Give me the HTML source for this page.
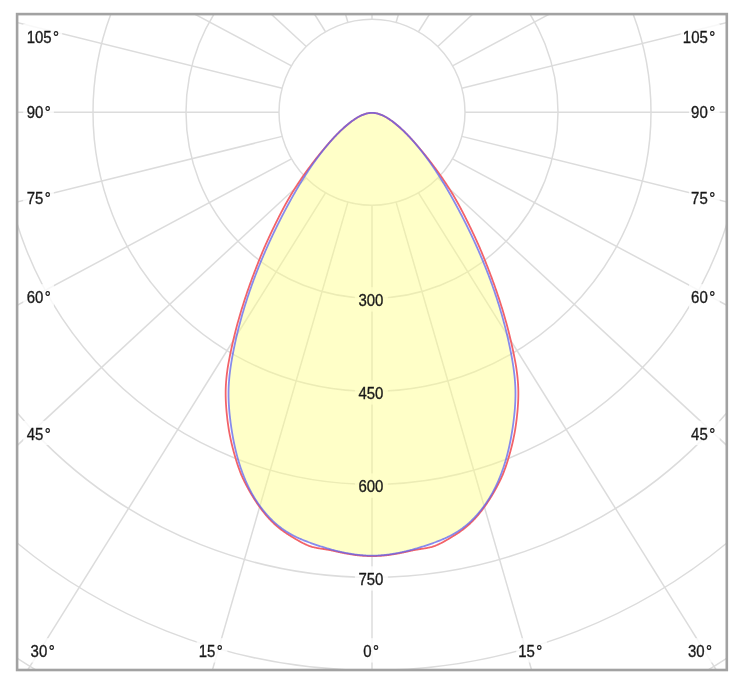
<!DOCTYPE html>
<html><head><meta charset="utf-8"><style>
html,body{margin:0;padding:0;background:#fff;}
body{width:756px;height:695px;overflow:hidden;}
svg{display:block;}
text{font-family:"Liberation Sans",sans-serif;font-size:15.0px;fill:#1a1a1a;stroke:#1a1a1a;stroke-width:0.3px;}
</style></head><body>
<svg width="756" height="695" viewBox="0 0 756 695">
<defs><filter id="bl" x="0" y="0" width="756" height="695" filterUnits="userSpaceOnUse"><feGaussianBlur stdDeviation="0.45"/></filter><clipPath id="c"><rect x="17.1" y="14.1" width="709.7" height="655.9"/></clipPath></defs>
<rect x="0" y="0" width="756" height="695" fill="#fff"/>
<g filter="url(#bl)">
<g clip-path="url(#c)">
<g fill="none" stroke="#dcdcdc" stroke-width="1.5"><circle cx="372.0" cy="112.3" r="93.00"/><circle cx="372.0" cy="112.3" r="186.00"/><circle cx="372.0" cy="112.3" r="279.00"/><circle cx="372.0" cy="112.3" r="372.00"/><circle cx="372.0" cy="112.3" r="465.00"/><circle cx="372.0" cy="112.3" r="558.00"/><circle cx="372.0" cy="112.3" r="651.00"/><line x1="372.00" y1="205.30" x2="372.00" y2="1592.80"/><line x1="396.07" y1="202.13" x2="784.30" y2="1542.35"/><line x1="418.50" y1="192.84" x2="1168.50" y2="1394.45"/><line x1="437.76" y1="178.06" x2="1498.42" y2="1159.17"/><line x1="452.54" y1="158.80" x2="1751.58" y2="852.55"/><line x1="461.83" y1="136.37" x2="1910.72" y2="495.48"/><line x1="465.00" y1="112.30" x2="1965.00" y2="112.30"/><line x1="461.83" y1="88.23" x2="1910.72" y2="-270.88"/><line x1="452.54" y1="65.80" x2="1751.58" y2="-627.95"/><line x1="437.76" y1="46.54" x2="1498.42" y2="-934.57"/><line x1="418.50" y1="31.76" x2="1168.50" y2="-1169.85"/><line x1="396.07" y1="22.47" x2="784.30" y2="-1317.75"/><line x1="372.00" y1="19.30" x2="372.00" y2="-1368.20"/><line x1="347.93" y1="22.47" x2="-40.30" y2="-1317.75"/><line x1="325.50" y1="31.76" x2="-424.50" y2="-1169.85"/><line x1="306.24" y1="46.54" x2="-754.42" y2="-934.57"/><line x1="291.46" y1="65.80" x2="-1007.58" y2="-627.95"/><line x1="282.17" y1="88.23" x2="-1166.72" y2="-270.88"/><line x1="279.00" y1="112.30" x2="-1221.00" y2="112.30"/><line x1="282.17" y1="136.37" x2="-1166.72" y2="495.48"/><line x1="291.46" y1="158.80" x2="-1007.58" y2="852.55"/><line x1="306.24" y1="178.06" x2="-754.42" y2="1159.17"/><line x1="325.50" y1="192.84" x2="-424.50" y2="1394.45"/><line x1="347.93" y1="202.13" x2="-40.30" y2="1542.35"/></g>
<g fill="#fff" fill-opacity="0.8"><rect x="23.2" y="23.9" width="39.0" height="24.3"/><rect x="680.7" y="23.9" width="39.0" height="24.3"/><rect x="23.2" y="99.0" width="30.7" height="24.3"/><rect x="689.0" y="99.0" width="30.7" height="24.3"/><rect x="23.2" y="185.4" width="30.7" height="24.3"/><rect x="689.0" y="185.4" width="30.7" height="24.3"/><rect x="23.2" y="284.2" width="30.7" height="24.3"/><rect x="689.0" y="284.2" width="30.7" height="24.3"/><rect x="23.2" y="420.8" width="30.7" height="24.3"/><rect x="689.0" y="420.8" width="30.7" height="24.3"/><rect x="28.5" y="638.2" width="30.7" height="24.3"/><rect x="196.7" y="638.2" width="30.7" height="24.3"/><rect x="361.1" y="638.2" width="22.3" height="24.3"/><rect x="516.2" y="638.2" width="30.7" height="24.3"/><rect x="685.9" y="638.2" width="30.7" height="24.3"/><rect x="354.9" y="287.2" width="33.0" height="24.3"/><rect x="354.9" y="380.3" width="33.0" height="24.3"/><rect x="354.9" y="473.5" width="33.0" height="24.3"/><rect x="354.9" y="566.3" width="33.0" height="24.3"/></g>
<path d="M372.00,112.91 L371.22,112.92 L370.50,112.95 L369.79,113.01 L369.07,113.09 L368.36,113.20 L367.65,113.33 L366.94,113.48 L366.23,113.65 L365.53,113.85 L364.82,114.06 L364.12,114.30 L363.43,114.55 L362.73,114.82 L362.04,115.11 L361.35,115.42 L360.66,115.74 L359.97,116.08 L359.29,116.44 L358.62,116.80 L357.94,117.18 L357.27,117.58 L356.60,117.98 L355.94,118.40 L355.28,118.82 L354.62,119.26 L353.97,119.70 L353.32,120.15 L352.67,120.61 L352.03,121.08 L351.40,121.55 L350.77,122.03 L350.14,122.51 L349.52,123.00 L348.90,123.49 L348.29,123.98 L347.68,124.48 L347.08,124.98 L346.48,125.48 L345.89,125.99 L345.30,126.49 L344.72,127.01 L344.13,127.52 L343.56,128.04 L342.98,128.56 L342.42,129.08 L341.85,129.61 L341.29,130.14 L340.73,130.67 L340.18,131.20 L339.63,131.74 L339.08,132.28 L338.54,132.82 L338.00,133.36 L337.46,133.91 L336.92,134.46 L336.39,135.01 L335.86,135.56 L335.34,136.12 L334.82,136.67 L334.30,137.23 L333.78,137.79 L333.26,138.36 L332.75,138.92 L332.24,139.49 L331.74,140.06 L331.23,140.63 L330.73,141.20 L330.23,141.77 L329.73,142.34 L329.23,142.92 L328.73,143.50 L328.24,144.08 L327.75,144.66 L327.26,145.24 L326.77,145.82 L326.28,146.41 L325.80,147.00 L325.32,147.58 L324.84,148.17 L324.36,148.76 L323.88,149.35 L323.40,149.95 L322.93,150.54 L322.46,151.14 L321.99,151.74 L321.52,152.34 L321.05,152.94 L320.59,153.54 L320.13,154.14 L319.66,154.74 L319.20,155.35 L318.75,155.96 L318.29,156.56 L317.84,157.17 L317.38,157.78 L316.93,158.39 L316.48,159.01 L316.03,159.62 L315.58,160.24 L315.14,160.85 L314.70,161.47 L314.25,162.09 L313.81,162.71 L313.37,163.33 L312.94,163.95 L312.50,164.57 L312.07,165.20 L311.63,165.82 L311.20,166.45 L310.77,167.08 L310.34,167.71 L309.91,168.34 L309.49,168.97 L309.06,169.60 L308.64,170.23 L308.22,170.86 L307.80,171.50 L307.38,172.14 L306.96,172.77 L306.55,173.41 L306.13,174.05 L305.72,174.69 L305.31,175.33 L304.89,175.97 L304.49,176.61 L304.08,177.26 L303.67,177.90 L303.26,178.55 L302.86,179.19 L302.46,179.84 L302.05,180.49 L301.65,181.13 L301.25,181.78 L300.86,182.43 L300.46,183.09 L300.06,183.74 L299.67,184.39 L299.27,185.04 L298.88,185.70 L298.49,186.35 L298.10,187.01 L297.71,187.67 L297.32,188.32 L296.93,188.98 L296.55,189.64 L296.16,190.30 L295.78,190.96 L295.40,191.62 L295.01,192.28 L294.63,192.94 L294.25,193.61 L293.87,194.27 L293.50,194.93 L293.12,195.60 L292.74,196.26 L292.37,196.93 L291.99,197.60 L291.62,198.26 L291.25,198.93 L290.88,199.60 L290.51,200.27 L290.14,200.94 L289.77,201.61 L289.40,202.28 L289.03,202.95 L288.67,203.62 L288.30,204.29 L287.94,204.96 L287.58,205.64 L287.21,206.31 L286.85,206.98 L286.49,207.66 L286.13,208.33 L285.77,209.01 L285.41,209.68 L285.05,210.36 L284.69,211.03 L284.34,211.71 L283.98,212.39 L283.63,213.06 L283.27,213.74 L282.92,214.42 L282.57,215.10 L282.21,215.78 L281.86,216.46 L281.51,217.14 L281.16,217.82 L280.81,218.50 L280.47,219.18 L280.12,219.86 L279.77,220.54 L279.43,221.23 L279.08,221.91 L278.74,222.59 L278.40,223.28 L278.05,223.96 L277.71,224.65 L277.37,225.33 L277.03,226.02 L276.69,226.70 L276.36,227.39 L276.02,228.07 L275.68,228.76 L275.35,229.45 L275.01,230.14 L274.68,230.82 L274.35,231.51 L274.01,232.20 L273.68,232.89 L273.35,233.58 L273.02,234.27 L272.70,234.96 L272.37,235.65 L272.04,236.35 L271.72,237.04 L271.39,237.73 L271.07,238.42 L270.74,239.12 L270.42,239.81 L270.10,240.50 L269.78,241.20 L269.46,241.89 L269.14,242.59 L268.82,243.28 L268.51,243.98 L268.19,244.68 L267.88,245.37 L267.56,246.07 L267.25,246.77 L266.94,247.47 L266.63,248.16 L266.32,248.86 L266.01,249.56 L265.70,250.26 L265.39,250.96 L265.09,251.66 L264.78,252.36 L264.48,253.06 L264.17,253.77 L263.87,254.47 L263.57,255.17 L263.27,255.87 L262.97,256.58 L262.67,257.28 L262.37,257.98 L262.07,258.69 L261.78,259.39 L261.48,260.10 L261.19,260.80 L260.90,261.51 L260.61,262.22 L260.32,262.92 L260.03,263.63 L259.74,264.34 L259.45,265.05 L259.16,265.75 L258.88,266.46 L258.59,267.17 L258.31,267.88 L258.02,268.59 L257.74,269.30 L257.46,270.01 L257.18,270.72 L256.90,271.44 L256.63,272.15 L256.35,272.86 L256.07,273.57 L255.80,274.29 L255.53,275.00 L255.25,275.71 L254.98,276.43 L254.71,277.14 L254.44,277.86 L254.17,278.57 L253.91,279.29 L253.64,280.00 L253.38,280.72 L253.11,281.44 L252.85,282.15 L252.59,282.87 L252.33,283.59 L252.07,284.31 L251.81,285.03 L251.55,285.75 L251.30,286.47 L251.04,287.19 L250.79,287.91 L250.53,288.63 L250.28,289.35 L250.03,290.07 L249.78,290.79 L249.53,291.51 L249.28,292.24 L249.04,292.96 L248.79,293.68 L248.55,294.41 L248.31,295.13 L248.06,295.85 L247.82,296.58 L247.58,297.30 L247.34,298.03 L247.11,298.76 L246.87,299.48 L246.64,300.21 L246.40,300.94 L246.17,301.66 L245.94,302.39 L245.71,303.12 L245.48,303.85 L245.25,304.58 L245.02,305.31 L244.80,306.04 L244.57,306.77 L244.35,307.50 L244.13,308.23 L243.91,308.96 L243.69,309.69 L243.47,310.42 L243.25,311.15 L243.03,311.89 L242.82,312.62 L242.60,313.35 L242.39,314.09 L242.18,314.82 L241.97,315.56 L241.76,316.29 L241.55,317.03 L241.35,317.76 L241.14,318.50 L240.94,319.23 L240.73,319.97 L240.53,320.71 L240.33,321.44 L240.13,322.18 L239.93,322.92 L239.74,323.66 L239.54,324.40 L239.35,325.14 L239.15,325.88 L238.96,326.62 L238.77,327.36 L238.58,328.10 L238.39,328.84 L238.21,329.58 L238.02,330.32 L237.84,331.06 L237.65,331.80 L237.47,332.55 L237.29,333.29 L237.11,334.03 L236.93,334.78 L236.76,335.52 L236.58,336.27 L236.41,337.01 L236.23,337.76 L236.06,338.50 L235.89,339.25 L235.72,339.99 L235.56,340.74 L235.39,341.49 L235.22,342.23 L235.06,342.98 L234.90,343.73 L234.74,344.48 L234.58,345.23 L234.42,345.98 L234.26,346.73 L234.11,347.47 L233.95,348.23 L233.80,348.98 L233.65,349.73 L233.50,350.48 L233.35,351.23 L233.20,351.98 L233.05,352.73 L232.91,353.49 L232.77,354.24 L232.62,354.99 L232.48,355.74 L232.34,356.50 L232.21,357.25 L232.07,358.01 L231.94,358.76 L231.81,359.52 L231.68,360.27 L231.55,361.03 L231.42,361.78 L231.30,362.54 L231.18,363.29 L231.06,364.05 L230.94,364.81 L230.83,365.56 L230.71,366.32 L230.60,367.08 L230.49,367.83 L230.39,368.59 L230.29,369.35 L230.18,370.11 L230.09,370.87 L229.99,371.62 L229.90,372.38 L229.81,373.14 L229.72,373.90 L229.63,374.66 L229.55,375.42 L229.47,376.18 L229.39,376.93 L229.32,377.69 L229.25,378.45 L229.18,379.21 L229.12,379.97 L229.06,380.73 L229.00,381.49 L228.94,382.25 L228.89,383.01 L228.84,383.77 L228.80,384.53 L228.75,385.29 L228.72,386.05 L228.68,386.81 L228.65,387.57 L228.62,388.33 L228.60,389.09 L228.58,389.85 L228.56,390.61 L228.55,391.37 L228.54,392.13 L228.53,392.89 L228.53,393.64 L228.53,394.40 L228.54,395.16 L228.54,395.92 L228.55,396.68 L228.57,397.44 L228.59,398.20 L228.61,398.96 L228.63,399.72 L228.66,400.48 L228.69,401.24 L228.72,402.00 L228.76,402.76 L228.79,403.52 L228.84,404.28 L228.88,405.04 L228.93,405.80 L228.98,406.56 L229.03,407.32 L229.09,408.08 L229.14,408.84 L229.21,409.60 L229.27,410.36 L229.33,411.12 L229.40,411.88 L229.47,412.64 L229.55,413.39 L229.62,414.15 L229.70,414.91 L229.78,415.67 L229.86,416.43 L229.95,417.19 L230.04,417.95 L230.13,418.71 L230.22,419.47 L230.31,420.23 L230.41,420.99 L230.50,421.75 L230.60,422.51 L230.70,423.27 L230.81,424.03 L230.91,424.80 L231.02,425.56 L231.13,426.32 L231.24,427.08 L231.35,427.84 L231.46,428.60 L231.58,429.36 L231.70,430.12 L231.82,430.88 L231.94,431.64 L232.06,432.40 L232.19,433.15 L232.32,433.91 L232.45,434.67 L232.58,435.43 L232.71,436.19 L232.85,436.95 L232.99,437.71 L233.13,438.46 L233.27,439.22 L233.42,439.98 L233.57,440.73 L233.72,441.49 L233.87,442.24 L234.02,443.00 L234.18,443.75 L234.34,444.51 L234.50,445.26 L234.66,446.01 L234.83,446.76 L235.00,447.51 L235.17,448.26 L235.34,449.01 L235.52,449.76 L235.70,450.51 L235.88,451.26 L236.06,452.01 L236.25,452.75 L236.44,453.50 L236.63,454.24 L236.82,454.99 L237.02,455.73 L237.22,456.47 L237.42,457.21 L237.63,457.95 L237.83,458.69 L238.04,459.43 L238.26,460.17 L238.47,460.90 L238.69,461.64 L238.91,462.37 L239.14,463.11 L239.36,463.84 L239.59,464.57 L239.83,465.30 L240.06,466.03 L240.30,466.75 L240.54,467.48 L240.79,468.20 L241.04,468.93 L241.29,469.65 L241.54,470.37 L241.80,471.09 L242.06,471.81 L242.32,472.52 L242.59,473.24 L242.86,473.95 L243.13,474.66 L243.41,475.37 L243.69,476.08 L243.97,476.79 L244.26,477.50 L244.55,478.20 L244.84,478.91 L245.13,479.61 L245.43,480.31 L245.74,481.00 L246.04,481.70 L246.35,482.40 L246.66,483.09 L246.98,483.78 L247.30,484.47 L247.62,485.16 L247.95,485.84 L248.28,486.53 L248.61,487.21 L248.95,487.89 L249.29,488.57 L249.64,489.24 L249.99,489.92 L250.34,490.59 L250.69,491.26 L251.05,491.93 L251.42,492.59 L251.78,493.26 L252.16,493.92 L252.53,494.58 L252.91,495.24 L253.29,495.89 L253.68,496.55 L254.07,497.20 L254.46,497.85 L254.86,498.50 L255.26,499.14 L255.67,499.78 L256.08,500.42 L256.49,501.06 L256.91,501.70 L257.33,502.33 L257.75,502.96 L258.18,503.59 L258.62,504.21 L259.06,504.84 L259.50,505.46 L259.94,506.07 L260.40,506.69 L260.85,507.30 L261.31,507.91 L261.77,508.52 L262.24,509.13 L262.71,509.73 L263.19,510.33 L263.67,510.92 L264.15,511.52 L264.64,512.11 L265.13,512.69 L265.63,513.28 L266.13,513.86 L266.63,514.43 L267.14,515.01 L267.66,515.58 L268.17,516.14 L268.69,516.70 L269.22,517.26 L269.75,517.82 L270.28,518.37 L270.82,518.91 L271.36,519.46 L271.90,519.99 L272.45,520.53 L273.00,521.06 L273.56,521.58 L274.12,522.10 L274.69,522.62 L275.25,523.13 L275.83,523.63 L276.40,524.13 L276.98,524.63 L277.57,525.12 L278.15,525.61 L278.74,526.09 L279.34,526.56 L279.94,527.03 L280.54,527.50 L281.15,527.96 L281.76,528.41 L282.37,528.86 L282.99,529.30 L283.61,529.74 L284.23,530.17 L284.86,530.59 L285.49,531.01 L286.13,531.43 L286.77,531.83 L287.41,532.23 L288.06,532.63 L288.71,533.02 L289.36,533.40 L290.02,533.78 L290.68,534.15 L291.34,534.51 L292.01,534.88 L292.68,535.23 L293.35,535.58 L294.02,535.93 L294.70,536.27 L295.38,536.61 L296.06,536.94 L296.75,537.26 L297.44,537.59 L298.13,537.90 L298.82,538.22 L299.51,538.53 L300.21,538.84 L300.91,539.14 L301.61,539.44 L302.32,539.73 L303.02,540.02 L303.73,540.31 L304.44,540.60 L305.15,540.88 L305.86,541.16 L306.58,541.43 L307.29,541.71 L308.01,541.98 L308.73,542.25 L309.45,542.51 L310.17,542.77 L310.89,543.03 L311.62,543.29 L312.34,543.55 L313.07,543.80 L313.79,544.06 L314.52,544.31 L315.25,544.56 L315.98,544.81 L316.71,545.05 L317.44,545.30 L318.17,545.54 L318.90,545.78 L319.64,546.02 L320.37,546.26 L321.11,546.50 L321.84,546.73 L322.58,546.96 L323.31,547.19 L324.05,547.42 L324.79,547.64 L325.53,547.87 L326.26,548.09 L327.00,548.31 L327.74,548.53 L328.49,548.74 L329.23,548.95 L329.97,549.16 L330.71,549.37 L331.45,549.57 L332.20,549.77 L332.94,549.97 L333.69,550.17 L334.43,550.37 L335.18,550.56 L335.92,550.75 L336.67,550.93 L337.42,551.11 L338.16,551.29 L338.91,551.47 L339.66,551.65 L340.41,551.82 L341.16,551.98 L341.91,552.15 L342.66,552.31 L343.41,552.47 L344.16,552.63 L344.91,552.78 L345.66,552.93 L346.42,553.07 L347.17,553.21 L347.92,553.35 L348.67,553.49 L349.43,553.62 L350.18,553.75 L350.93,553.87 L351.69,553.99 L352.44,554.11 L353.20,554.22 L353.95,554.33 L354.71,554.43 L355.46,554.53 L356.22,554.63 L356.97,554.72 L357.73,554.81 L358.49,554.90 L359.24,554.98 L360.00,555.06 L360.76,555.13 L361.51,555.20 L362.27,555.26 L363.03,555.32 L363.78,555.38 L364.54,555.43 L365.30,555.47 L366.05,555.52 L366.81,555.55 L367.57,555.59 L368.33,555.61 L369.08,555.64 L369.84,555.66 L370.60,555.67 L371.36,555.68 L372.00,555.68 L372.64,555.68 L373.40,555.67 L374.16,555.66 L374.92,555.64 L375.67,555.61 L376.43,555.59 L377.19,555.55 L377.95,555.52 L378.70,555.47 L379.46,555.43 L380.22,555.38 L380.97,555.32 L381.73,555.26 L382.49,555.20 L383.24,555.13 L384.00,555.06 L384.76,554.98 L385.51,554.90 L386.27,554.81 L387.03,554.72 L387.78,554.63 L388.54,554.53 L389.29,554.43 L390.05,554.33 L390.80,554.22 L391.56,554.11 L392.31,553.99 L393.07,553.87 L393.82,553.75 L394.57,553.62 L395.33,553.49 L396.08,553.35 L396.83,553.21 L397.58,553.07 L398.34,552.93 L399.09,552.78 L399.84,552.63 L400.59,552.47 L401.34,552.31 L402.09,552.15 L402.84,551.98 L403.59,551.82 L404.34,551.65 L405.09,551.47 L405.84,551.29 L406.58,551.11 L407.33,550.93 L408.08,550.75 L408.82,550.56 L409.57,550.37 L410.31,550.17 L411.06,549.97 L411.80,549.77 L412.55,549.57 L413.29,549.37 L414.03,549.16 L414.77,548.95 L415.51,548.74 L416.26,548.53 L417.00,548.31 L417.74,548.09 L418.47,547.87 L419.21,547.64 L419.95,547.42 L420.69,547.19 L421.42,546.96 L422.16,546.73 L422.89,546.50 L423.63,546.26 L424.36,546.02 L425.10,545.78 L425.83,545.54 L426.56,545.30 L427.29,545.05 L428.02,544.81 L428.75,544.56 L429.48,544.31 L430.21,544.06 L430.93,543.80 L431.66,543.55 L432.38,543.29 L433.11,543.03 L433.83,542.77 L434.55,542.51 L435.27,542.25 L435.99,541.98 L436.71,541.71 L437.42,541.43 L438.14,541.16 L438.85,540.88 L439.56,540.60 L440.27,540.31 L440.98,540.02 L441.68,539.73 L442.39,539.44 L443.09,539.14 L443.79,538.84 L444.49,538.53 L445.18,538.22 L445.87,537.90 L446.56,537.59 L447.25,537.26 L447.94,536.94 L448.62,536.61 L449.30,536.27 L449.98,535.93 L450.65,535.58 L451.32,535.23 L451.99,534.88 L452.66,534.51 L453.32,534.15 L453.98,533.78 L454.64,533.40 L455.29,533.02 L455.94,532.63 L456.59,532.23 L457.23,531.83 L457.87,531.43 L458.51,531.01 L459.14,530.59 L459.77,530.17 L460.39,529.74 L461.01,529.30 L461.63,528.86 L462.24,528.41 L462.85,527.96 L463.46,527.50 L464.06,527.03 L464.66,526.56 L465.26,526.09 L465.85,525.61 L466.43,525.12 L467.02,524.63 L467.60,524.13 L468.17,523.63 L468.75,523.13 L469.31,522.62 L469.88,522.10 L470.44,521.58 L471.00,521.06 L471.55,520.53 L472.10,519.99 L472.64,519.46 L473.18,518.91 L473.72,518.37 L474.25,517.82 L474.78,517.26 L475.31,516.70 L475.83,516.14 L476.34,515.58 L476.86,515.01 L477.37,514.43 L477.87,513.86 L478.37,513.28 L478.87,512.69 L479.36,512.11 L479.85,511.52 L480.33,510.92 L480.81,510.33 L481.29,509.73 L481.76,509.13 L482.23,508.52 L482.69,507.91 L483.15,507.30 L483.60,506.69 L484.06,506.07 L484.50,505.46 L484.94,504.84 L485.38,504.21 L485.82,503.59 L486.25,502.96 L486.67,502.33 L487.09,501.70 L487.51,501.06 L487.92,500.42 L488.33,499.78 L488.74,499.14 L489.14,498.50 L489.54,497.85 L489.93,497.20 L490.32,496.55 L490.71,495.89 L491.09,495.24 L491.47,494.58 L491.84,493.92 L492.22,493.26 L492.58,492.59 L492.95,491.93 L493.31,491.26 L493.66,490.59 L494.01,489.92 L494.36,489.24 L494.71,488.57 L495.05,487.89 L495.39,487.21 L495.72,486.53 L496.05,485.84 L496.38,485.16 L496.70,484.47 L497.02,483.78 L497.34,483.09 L497.65,482.40 L497.96,481.70 L498.26,481.00 L498.57,480.31 L498.87,479.61 L499.16,478.91 L499.45,478.20 L499.74,477.50 L500.03,476.79 L500.31,476.08 L500.59,475.37 L500.87,474.66 L501.14,473.95 L501.41,473.24 L501.68,472.52 L501.94,471.81 L502.20,471.09 L502.46,470.37 L502.71,469.65 L502.96,468.93 L503.21,468.20 L503.46,467.48 L503.70,466.75 L503.94,466.03 L504.17,465.30 L504.41,464.57 L504.64,463.84 L504.86,463.11 L505.09,462.37 L505.31,461.64 L505.53,460.90 L505.74,460.17 L505.96,459.43 L506.17,458.69 L506.37,457.95 L506.58,457.21 L506.78,456.47 L506.98,455.73 L507.18,454.99 L507.37,454.24 L507.56,453.50 L507.75,452.75 L507.94,452.01 L508.12,451.26 L508.30,450.51 L508.48,449.76 L508.66,449.01 L508.83,448.26 L509.00,447.51 L509.17,446.76 L509.34,446.01 L509.50,445.26 L509.66,444.51 L509.82,443.75 L509.98,443.00 L510.13,442.24 L510.28,441.49 L510.43,440.73 L510.58,439.98 L510.73,439.22 L510.87,438.46 L511.01,437.71 L511.15,436.95 L511.29,436.19 L511.42,435.43 L511.55,434.67 L511.68,433.91 L511.81,433.15 L511.94,432.40 L512.06,431.64 L512.18,430.88 L512.30,430.12 L512.42,429.36 L512.54,428.60 L512.65,427.84 L512.76,427.08 L512.87,426.32 L512.98,425.56 L513.09,424.80 L513.19,424.03 L513.30,423.27 L513.40,422.51 L513.50,421.75 L513.59,420.99 L513.69,420.23 L513.78,419.47 L513.87,418.71 L513.96,417.95 L514.05,417.19 L514.14,416.43 L514.22,415.67 L514.30,414.91 L514.38,414.15 L514.45,413.39 L514.53,412.64 L514.60,411.88 L514.67,411.12 L514.73,410.36 L514.79,409.60 L514.86,408.84 L514.91,408.08 L514.97,407.32 L515.02,406.56 L515.07,405.80 L515.12,405.04 L515.16,404.28 L515.21,403.52 L515.24,402.76 L515.28,402.00 L515.31,401.24 L515.34,400.48 L515.37,399.72 L515.39,398.96 L515.41,398.20 L515.43,397.44 L515.45,396.68 L515.46,395.92 L515.46,395.16 L515.47,394.40 L515.47,393.64 L515.47,392.89 L515.46,392.13 L515.45,391.37 L515.44,390.61 L515.42,389.85 L515.40,389.09 L515.38,388.33 L515.35,387.57 L515.32,386.81 L515.28,386.05 L515.25,385.29 L515.20,384.53 L515.16,383.77 L515.11,383.01 L515.06,382.25 L515.00,381.49 L514.94,380.73 L514.88,379.97 L514.82,379.21 L514.75,378.45 L514.68,377.69 L514.61,376.93 L514.53,376.18 L514.45,375.42 L514.37,374.66 L514.28,373.90 L514.19,373.14 L514.10,372.38 L514.01,371.62 L513.91,370.87 L513.82,370.11 L513.71,369.35 L513.61,368.59 L513.51,367.83 L513.40,367.08 L513.29,366.32 L513.17,365.56 L513.06,364.81 L512.94,364.05 L512.82,363.29 L512.70,362.54 L512.58,361.78 L512.45,361.03 L512.32,360.27 L512.19,359.52 L512.06,358.76 L511.93,358.01 L511.79,357.25 L511.66,356.50 L511.52,355.74 L511.38,354.99 L511.23,354.24 L511.09,353.49 L510.95,352.73 L510.80,351.98 L510.65,351.23 L510.50,350.48 L510.35,349.73 L510.20,348.98 L510.05,348.23 L509.89,347.47 L509.74,346.73 L509.58,345.98 L509.42,345.23 L509.26,344.48 L509.10,343.73 L508.94,342.98 L508.78,342.23 L508.61,341.49 L508.44,340.74 L508.28,339.99 L508.11,339.25 L507.94,338.50 L507.77,337.76 L507.59,337.01 L507.42,336.27 L507.24,335.52 L507.07,334.78 L506.89,334.03 L506.71,333.29 L506.53,332.55 L506.35,331.80 L506.16,331.06 L505.98,330.32 L505.79,329.58 L505.61,328.84 L505.42,328.10 L505.23,327.36 L505.04,326.62 L504.85,325.88 L504.65,325.14 L504.46,324.40 L504.26,323.66 L504.07,322.92 L503.87,322.18 L503.67,321.44 L503.47,320.71 L503.27,319.97 L503.06,319.23 L502.86,318.50 L502.65,317.76 L502.45,317.03 L502.24,316.29 L502.03,315.56 L501.82,314.82 L501.61,314.09 L501.40,313.35 L501.18,312.62 L500.97,311.89 L500.75,311.15 L500.53,310.42 L500.31,309.69 L500.09,308.96 L499.87,308.23 L499.65,307.50 L499.43,306.77 L499.20,306.04 L498.98,305.31 L498.75,304.58 L498.52,303.85 L498.29,303.12 L498.06,302.39 L497.83,301.66 L497.60,300.94 L497.36,300.21 L497.13,299.48 L496.89,298.76 L496.66,298.03 L496.42,297.30 L496.18,296.58 L495.94,295.85 L495.69,295.13 L495.45,294.41 L495.21,293.68 L494.96,292.96 L494.72,292.24 L494.47,291.51 L494.22,290.79 L493.97,290.07 L493.72,289.35 L493.47,288.63 L493.21,287.91 L492.96,287.19 L492.70,286.47 L492.45,285.75 L492.19,285.03 L491.93,284.31 L491.67,283.59 L491.41,282.87 L491.15,282.15 L490.89,281.44 L490.62,280.72 L490.36,280.00 L490.09,279.29 L489.83,278.57 L489.56,277.86 L489.29,277.14 L489.02,276.43 L488.75,275.71 L488.47,275.00 L488.20,274.29 L487.93,273.57 L487.65,272.86 L487.37,272.15 L487.10,271.44 L486.82,270.72 L486.54,270.01 L486.26,269.30 L485.98,268.59 L485.69,267.88 L485.41,267.17 L485.12,266.46 L484.84,265.75 L484.55,265.05 L484.26,264.34 L483.97,263.63 L483.68,262.92 L483.39,262.22 L483.10,261.51 L482.81,260.80 L482.52,260.10 L482.22,259.39 L481.93,258.69 L481.63,257.98 L481.33,257.28 L481.03,256.58 L480.73,255.87 L480.43,255.17 L480.13,254.47 L479.83,253.77 L479.52,253.06 L479.22,252.36 L478.91,251.66 L478.61,250.96 L478.30,250.26 L477.99,249.56 L477.68,248.86 L477.37,248.16 L477.06,247.47 L476.75,246.77 L476.44,246.07 L476.12,245.37 L475.81,244.68 L475.49,243.98 L475.18,243.28 L474.86,242.59 L474.54,241.89 L474.22,241.20 L473.90,240.50 L473.58,239.81 L473.26,239.12 L472.93,238.42 L472.61,237.73 L472.28,237.04 L471.96,236.35 L471.63,235.65 L471.30,234.96 L470.98,234.27 L470.65,233.58 L470.32,232.89 L469.99,232.20 L469.65,231.51 L469.32,230.82 L468.99,230.14 L468.65,229.45 L468.32,228.76 L467.98,228.07 L467.64,227.39 L467.31,226.70 L466.97,226.02 L466.63,225.33 L466.29,224.65 L465.95,223.96 L465.60,223.28 L465.26,222.59 L464.92,221.91 L464.57,221.23 L464.23,220.54 L463.88,219.86 L463.53,219.18 L463.19,218.50 L462.84,217.82 L462.49,217.14 L462.14,216.46 L461.79,215.78 L461.43,215.10 L461.08,214.42 L460.73,213.74 L460.37,213.06 L460.02,212.39 L459.66,211.71 L459.31,211.03 L458.95,210.36 L458.59,209.68 L458.23,209.01 L457.87,208.33 L457.51,207.66 L457.15,206.98 L456.79,206.31 L456.42,205.64 L456.06,204.96 L455.70,204.29 L455.33,203.62 L454.97,202.95 L454.60,202.28 L454.23,201.61 L453.86,200.94 L453.49,200.27 L453.12,199.60 L452.75,198.93 L452.38,198.26 L452.01,197.60 L451.63,196.93 L451.26,196.26 L450.88,195.60 L450.50,194.93 L450.13,194.27 L449.75,193.61 L449.37,192.94 L448.99,192.28 L448.60,191.62 L448.22,190.96 L447.84,190.30 L447.45,189.64 L447.07,188.98 L446.68,188.32 L446.29,187.67 L445.90,187.01 L445.51,186.35 L445.12,185.70 L444.73,185.04 L444.33,184.39 L443.94,183.74 L443.54,183.09 L443.14,182.43 L442.75,181.78 L442.35,181.13 L441.95,180.49 L441.54,179.84 L441.14,179.19 L440.74,178.55 L440.33,177.90 L439.92,177.26 L439.51,176.61 L439.11,175.97 L438.69,175.33 L438.28,174.69 L437.87,174.05 L437.45,173.41 L437.04,172.77 L436.62,172.14 L436.20,171.50 L435.78,170.86 L435.36,170.23 L434.94,169.60 L434.51,168.97 L434.09,168.34 L433.66,167.71 L433.23,167.08 L432.80,166.45 L432.37,165.82 L431.93,165.20 L431.50,164.57 L431.06,163.95 L430.63,163.33 L430.19,162.71 L429.75,162.09 L429.30,161.47 L428.86,160.85 L428.42,160.24 L427.97,159.62 L427.52,159.01 L427.07,158.39 L426.62,157.78 L426.16,157.17 L425.71,156.56 L425.25,155.96 L424.80,155.35 L424.34,154.74 L423.87,154.14 L423.41,153.54 L422.95,152.94 L422.48,152.34 L422.01,151.74 L421.54,151.14 L421.07,150.54 L420.60,149.95 L420.12,149.35 L419.64,148.76 L419.16,148.17 L418.68,147.58 L418.20,147.00 L417.72,146.41 L417.23,145.82 L416.74,145.24 L416.25,144.66 L415.76,144.08 L415.27,143.50 L414.77,142.92 L414.27,142.34 L413.77,141.77 L413.27,141.20 L412.77,140.63 L412.26,140.06 L411.76,139.49 L411.25,138.92 L410.74,138.36 L410.22,137.79 L409.70,137.23 L409.18,136.67 L408.66,136.12 L408.14,135.56 L407.61,135.01 L407.08,134.46 L406.54,133.91 L406.00,133.36 L405.46,132.82 L404.92,132.28 L404.37,131.74 L403.82,131.20 L403.27,130.67 L402.71,130.14 L402.15,129.61 L401.58,129.08 L401.02,128.56 L400.44,128.04 L399.87,127.52 L399.28,127.01 L398.70,126.49 L398.11,125.99 L397.52,125.48 L396.92,124.98 L396.32,124.48 L395.71,123.98 L395.10,123.49 L394.48,123.00 L393.86,122.51 L393.23,122.03 L392.60,121.55 L391.97,121.08 L391.33,120.61 L390.68,120.15 L390.03,119.70 L389.38,119.26 L388.72,118.82 L388.06,118.40 L387.40,117.98 L386.73,117.58 L386.06,117.18 L385.38,116.80 L384.71,116.44 L384.03,116.08 L383.34,115.74 L382.65,115.42 L381.96,115.11 L381.27,114.82 L380.57,114.55 L379.88,114.30 L379.18,114.06 L378.47,113.85 L377.77,113.65 L377.06,113.48 L376.35,113.33 L375.64,113.20 L374.93,113.09 L374.21,113.01 L373.50,112.95 L372.78,112.92 L372.00,112.91Z" fill="rgb(255,255,132)" fill-opacity="0.45" stroke="none"/>
<path d="M372.00,112.91 L371.22,112.92 L370.50,112.95 L369.79,113.01 L369.07,113.09 L368.36,113.20 L367.65,113.33 L366.94,113.48 L366.23,113.65 L365.53,113.85 L364.82,114.06 L364.12,114.30 L363.43,114.55 L362.73,114.82 L362.04,115.11 L361.35,115.42 L360.66,115.74 L359.97,116.08 L359.29,116.44 L358.62,116.80 L357.94,117.18 L357.27,117.58 L356.60,117.98 L355.94,118.40 L355.28,118.82 L354.62,119.26 L353.97,119.70 L353.32,120.15 L352.67,120.61 L352.03,121.08 L351.40,121.55 L350.77,122.03 L350.14,122.51 L349.52,123.00 L348.90,123.49 L348.29,123.98 L347.68,124.48 L347.08,124.98 L346.48,125.48 L345.89,125.98 L345.30,126.49 L344.71,127.00 L344.13,127.52 L343.55,128.03 L342.98,128.55 L342.41,129.07 L341.84,129.60 L341.28,130.13 L340.72,130.66 L340.16,131.19 L339.61,131.72 L339.06,132.26 L338.51,132.80 L337.97,133.34 L337.43,133.88 L336.89,134.42 L336.35,134.97 L335.82,135.52 L335.29,136.07 L334.77,136.63 L334.24,137.18 L333.72,137.74 L333.20,138.30 L332.68,138.86 L332.17,139.42 L331.66,139.99 L331.15,140.55 L330.64,141.12 L330.13,141.69 L329.63,142.26 L329.13,142.83 L328.63,143.41 L328.13,143.98 L327.63,144.56 L327.13,145.14 L326.64,145.72 L326.15,146.30 L325.65,146.88 L325.16,147.46 L324.67,148.04 L324.19,148.62 L323.70,149.21 L323.21,149.79 L322.72,150.38 L322.24,150.97 L321.75,151.55 L321.27,152.14 L320.79,152.73 L320.31,153.32 L319.83,153.91 L319.35,154.50 L318.87,155.09 L318.39,155.69 L317.91,156.28 L317.44,156.88 L316.97,157.47 L316.49,158.07 L316.02,158.67 L315.55,159.27 L315.09,159.87 L314.62,160.48 L314.15,161.08 L313.69,161.68 L313.23,162.29 L312.76,162.90 L312.30,163.50 L311.84,164.11 L311.38,164.72 L310.92,165.33 L310.46,165.94 L310.01,166.56 L309.55,167.17 L309.10,167.78 L308.64,168.40 L308.19,169.01 L307.74,169.63 L307.29,170.25 L306.84,170.87 L306.39,171.48 L305.94,172.11 L305.50,172.73 L305.05,173.35 L304.61,173.97 L304.17,174.60 L303.73,175.22 L303.29,175.85 L302.85,176.48 L302.41,177.11 L301.98,177.74 L301.54,178.37 L301.11,179.00 L300.68,179.64 L300.25,180.27 L299.82,180.91 L299.39,181.54 L298.97,182.18 L298.54,182.82 L298.12,183.46 L297.70,184.10 L297.28,184.74 L296.86,185.38 L296.44,186.02 L296.02,186.67 L295.61,187.31 L295.19,187.96 L294.78,188.61 L294.37,189.26 L293.96,189.90 L293.55,190.56 L293.15,191.21 L292.74,191.86 L292.34,192.51 L291.94,193.17 L291.55,193.83 L291.15,194.48 L290.76,195.14 L290.37,195.80 L289.98,196.47 L289.59,197.13 L289.21,197.79 L288.82,198.46 L288.44,199.12 L288.06,199.79 L287.68,200.46 L287.30,201.13 L286.93,201.80 L286.55,202.47 L286.18,203.14 L285.80,203.81 L285.43,204.48 L285.06,205.15 L284.70,205.83 L284.33,206.50 L283.96,207.18 L283.60,207.85 L283.24,208.53 L282.88,209.21 L282.52,209.89 L282.16,210.56 L281.81,211.25 L281.45,211.93 L281.10,212.61 L280.75,213.29 L280.40,213.97 L280.05,214.66 L279.70,215.34 L279.35,216.03 L279.00,216.71 L278.66,217.40 L278.31,218.08 L277.97,218.77 L277.62,219.46 L277.28,220.14 L276.94,220.83 L276.60,221.52 L276.26,222.20 L275.92,222.89 L275.58,223.58 L275.24,224.27 L274.90,224.96 L274.56,225.65 L274.22,226.34 L273.89,227.03 L273.55,227.72 L273.22,228.41 L272.88,229.10 L272.55,229.80 L272.22,230.49 L271.89,231.18 L271.56,231.87 L271.23,232.57 L270.90,233.26 L270.57,233.96 L270.25,234.65 L269.92,235.35 L269.60,236.04 L269.27,236.74 L268.95,237.43 L268.63,238.13 L268.30,238.83 L267.98,239.53 L267.67,240.22 L267.35,240.92 L267.03,241.62 L266.71,242.32 L266.40,243.02 L266.08,243.72 L265.77,244.42 L265.46,245.12 L265.15,245.83 L264.84,246.53 L264.53,247.23 L264.22,247.94 L263.92,248.64 L263.62,249.35 L263.31,250.05 L263.01,250.76 L262.71,251.46 L262.42,252.17 L262.12,252.88 L261.82,253.59 L261.53,254.30 L261.24,255.01 L260.94,255.72 L260.65,256.43 L260.36,257.14 L260.08,257.85 L259.79,258.56 L259.50,259.27 L259.22,259.98 L258.93,260.70 L258.65,261.41 L258.37,262.12 L258.08,262.84 L257.80,263.55 L257.52,264.26 L257.24,264.98 L256.96,265.69 L256.68,266.41 L256.41,267.12 L256.13,267.84 L255.85,268.55 L255.58,269.27 L255.30,269.99 L255.02,270.70 L254.75,271.42 L254.47,272.13 L254.20,272.85 L253.93,273.57 L253.65,274.28 L253.38,275.00 L253.11,275.72 L252.84,276.43 L252.57,277.15 L252.30,277.87 L252.03,278.59 L251.77,279.31 L251.50,280.03 L251.24,280.75 L250.97,281.47 L250.71,282.19 L250.45,282.91 L250.19,283.63 L249.93,284.35 L249.67,285.07 L249.41,285.80 L249.15,286.52 L248.90,287.24 L248.65,287.97 L248.39,288.69 L248.14,289.41 L247.89,290.14 L247.64,290.86 L247.39,291.59 L247.14,292.32 L246.90,293.04 L246.65,293.77 L246.41,294.49 L246.16,295.22 L245.92,295.95 L245.68,296.68 L245.44,297.40 L245.20,298.13 L244.96,298.86 L244.72,299.59 L244.48,300.32 L244.25,301.05 L244.01,301.78 L243.78,302.51 L243.54,303.24 L243.31,303.97 L243.08,304.70 L242.85,305.43 L242.62,306.17 L242.39,306.90 L242.16,307.63 L241.93,308.36 L241.71,309.10 L241.48,309.83 L241.26,310.56 L241.04,311.30 L240.82,312.03 L240.60,312.77 L240.38,313.51 L240.16,314.24 L239.95,314.98 L239.73,315.71 L239.52,316.45 L239.30,317.19 L239.09,317.93 L238.88,318.67 L238.67,319.40 L238.47,320.14 L238.26,320.88 L238.06,321.62 L237.85,322.36 L237.65,323.10 L237.45,323.84 L237.25,324.59 L237.05,325.33 L236.85,326.07 L236.65,326.81 L236.46,327.55 L236.26,328.30 L236.07,329.04 L235.88,329.79 L235.68,330.53 L235.49,331.27 L235.30,332.02 L235.12,332.76 L234.93,333.51 L234.74,334.26 L234.56,335.00 L234.38,335.75 L234.19,336.50 L234.01,337.24 L233.83,337.99 L233.66,338.74 L233.48,339.49 L233.30,340.24 L233.13,340.99 L232.95,341.74 L232.78,342.49 L232.61,343.24 L232.44,343.99 L232.27,344.74 L232.10,345.49 L231.94,346.24 L231.77,346.99 L231.60,347.74 L231.44,348.50 L231.28,349.25 L231.11,350.00 L230.95,350.76 L230.79,351.51 L230.63,352.26 L230.47,353.02 L230.32,353.77 L230.16,354.53 L230.01,355.29 L229.85,356.04 L229.70,356.80 L229.55,357.56 L229.40,358.32 L229.25,359.07 L229.11,359.83 L228.96,360.59 L228.82,361.35 L228.68,362.11 L228.55,362.87 L228.41,363.64 L228.28,364.40 L228.15,365.16 L228.02,365.92 L227.90,366.69 L227.78,367.45 L227.66,368.21 L227.55,368.98 L227.43,369.75 L227.33,370.51 L227.22,371.28 L227.12,372.04 L227.02,372.81 L226.92,373.58 L226.83,374.35 L226.74,375.12 L226.66,375.89 L226.58,376.66 L226.50,377.42 L226.42,378.19 L226.35,378.97 L226.28,379.74 L226.21,380.51 L226.15,381.28 L226.09,382.05 L226.03,382.82 L225.98,383.59 L225.93,384.36 L225.89,385.14 L225.85,385.91 L225.81,386.68 L225.77,387.46 L225.75,388.23 L225.72,389.00 L225.70,389.78 L225.68,390.55 L225.67,391.32 L225.66,392.10 L225.66,392.87 L225.66,393.64 L225.66,394.41 L225.67,395.19 L225.68,395.96 L225.69,396.73 L225.71,397.50 L225.73,398.27 L225.75,399.04 L225.78,399.82 L225.81,400.59 L225.84,401.36 L225.88,402.13 L225.92,402.90 L225.96,403.67 L226.01,404.44 L226.06,405.21 L226.11,405.98 L226.16,406.75 L226.22,407.52 L226.28,408.29 L226.34,409.06 L226.40,409.83 L226.47,410.59 L226.54,411.36 L226.61,412.13 L226.68,412.90 L226.76,413.67 L226.83,414.44 L226.91,415.21 L227.00,415.97 L227.08,416.74 L227.17,417.51 L227.25,418.28 L227.35,419.04 L227.44,419.81 L227.53,420.58 L227.63,421.35 L227.73,422.11 L227.83,422.88 L227.93,423.65 L228.04,424.41 L228.15,425.18 L228.26,425.95 L228.37,426.71 L228.49,427.48 L228.61,428.24 L228.73,429.01 L228.86,429.78 L228.99,430.54 L229.12,431.31 L229.25,432.07 L229.39,432.84 L229.53,433.60 L229.68,434.36 L229.82,435.13 L229.97,435.89 L230.13,436.65 L230.28,437.41 L230.44,438.18 L230.60,438.94 L230.77,439.70 L230.93,440.46 L231.10,441.22 L231.27,441.98 L231.45,442.73 L231.62,443.49 L231.80,444.25 L231.98,445.01 L232.17,445.76 L232.35,446.52 L232.54,447.27 L232.73,448.03 L232.92,448.78 L233.12,449.53 L233.32,450.28 L233.52,451.04 L233.72,451.79 L233.93,452.54 L234.14,453.28 L234.35,454.03 L234.56,454.78 L234.77,455.53 L234.99,456.27 L235.21,457.02 L235.43,457.76 L235.65,458.50 L235.87,459.25 L236.10,459.99 L236.33,460.73 L236.56,461.47 L236.80,462.21 L237.03,462.94 L237.27,463.68 L237.51,464.42 L237.76,465.15 L238.01,465.88 L238.26,466.62 L238.51,467.35 L238.76,468.08 L239.02,468.81 L239.28,469.53 L239.55,470.26 L239.82,470.98 L240.09,471.70 L240.37,472.42 L240.66,473.14 L240.95,473.85 L241.24,474.57 L241.54,475.28 L241.85,475.99 L242.16,476.69 L242.47,477.39 L242.79,478.09 L243.12,478.79 L243.45,479.49 L243.78,480.18 L244.12,480.87 L244.46,481.56 L244.80,482.25 L245.15,482.93 L245.50,483.62 L245.85,484.30 L246.21,484.98 L246.56,485.66 L246.92,486.34 L247.28,487.01 L247.64,487.69 L248.01,488.36 L248.37,489.03 L248.74,489.70 L249.11,490.37 L249.49,491.04 L249.86,491.71 L250.24,492.37 L250.62,493.03 L251.01,493.69 L251.40,494.35 L251.79,495.01 L252.18,495.66 L252.58,496.31 L252.98,496.96 L253.38,497.61 L253.79,498.26 L254.20,498.91 L254.61,499.55 L255.02,500.19 L255.44,500.83 L255.86,501.47 L256.28,502.11 L256.70,502.75 L257.13,503.38 L257.56,504.01 L258.00,504.65 L258.44,505.27 L258.88,505.90 L259.32,506.53 L259.77,507.15 L260.22,507.77 L260.68,508.39 L261.14,509.01 L261.60,509.62 L262.07,510.24 L262.54,510.85 L263.01,511.46 L263.49,512.06 L263.97,512.67 L264.45,513.27 L264.94,513.86 L265.44,514.46 L265.94,515.05 L266.44,515.64 L266.94,516.22 L267.45,516.81 L267.97,517.38 L268.48,517.96 L269.01,518.53 L269.53,519.10 L270.07,519.66 L270.60,520.22 L271.14,520.77 L271.69,521.32 L272.24,521.87 L272.79,522.41 L273.35,522.94 L273.91,523.48 L274.47,524.00 L275.04,524.52 L275.62,525.04 L276.20,525.55 L276.78,526.06 L277.37,526.57 L277.96,527.06 L278.55,527.56 L279.15,528.04 L279.76,528.52 L280.36,529.00 L280.97,529.47 L281.59,529.94 L282.21,530.40 L282.83,530.86 L283.46,531.31 L284.09,531.75 L284.72,532.19 L285.36,532.63 L286.00,533.06 L286.64,533.48 L287.29,533.91 L287.94,534.32 L288.59,534.74 L289.24,535.15 L289.89,535.56 L290.55,535.96 L291.21,536.36 L291.87,536.77 L292.53,537.17 L293.19,537.57 L293.85,537.96 L294.52,538.36 L295.19,538.76 L295.85,539.15 L296.52,539.55 L297.20,539.94 L297.87,540.33 L298.55,540.71 L299.23,541.10 L299.91,541.48 L300.59,541.85 L301.28,542.23 L301.97,542.59 L302.66,542.96 L303.36,543.31 L304.06,543.66 L304.76,544.00 L305.47,544.33 L306.18,544.65 L306.89,544.96 L307.61,545.26 L308.34,545.55 L309.06,545.83 L309.80,546.09 L310.53,546.34 L311.27,546.58 L312.02,546.81 L312.77,547.02 L313.52,547.22 L314.28,547.40 L315.04,547.58 L315.81,547.74 L316.58,547.89 L317.35,548.03 L318.12,548.17 L318.90,548.30 L319.68,548.42 L320.45,548.54 L321.23,548.65 L322.01,548.76 L322.79,548.88 L323.57,548.99 L324.34,549.11 L325.11,549.24 L325.89,549.36 L326.66,549.49 L327.42,549.63 L328.19,549.77 L328.95,549.91 L329.72,550.06 L330.48,550.21 L331.24,550.37 L331.99,550.53 L332.75,550.69 L333.51,550.85 L334.26,551.02 L335.02,551.19 L335.77,551.36 L336.52,551.52 L337.28,551.69 L338.03,551.86 L338.78,552.02 L339.54,552.19 L340.29,552.35 L341.04,552.51 L341.80,552.67 L342.55,552.83 L343.30,552.98 L344.06,553.13 L344.81,553.28 L345.57,553.42 L346.32,553.56 L347.08,553.70 L347.83,553.84 L348.59,553.97 L349.34,554.10 L350.10,554.22 L350.86,554.34 L351.61,554.46 L352.37,554.57 L353.13,554.68 L353.89,554.79 L354.64,554.89 L355.40,554.99 L356.16,555.09 L356.92,555.18 L357.68,555.26 L358.44,555.35 L359.20,555.42 L359.96,555.50 L360.71,555.57 L361.47,555.63 L362.23,555.70 L362.99,555.75 L363.75,555.81 L364.51,555.85 L365.27,555.90 L366.03,555.94 L366.79,555.97 L367.55,556.00 L368.31,556.03 L369.07,556.05 L369.83,556.07 L370.59,556.08 L371.35,556.09 L372.00,556.09 L372.65,556.09 L373.41,556.08 L374.17,556.07 L374.93,556.05 L375.69,556.03 L376.45,556.00 L377.21,555.97 L377.97,555.94 L378.73,555.90 L379.49,555.85 L380.25,555.81 L381.01,555.75 L381.77,555.70 L382.53,555.63 L383.29,555.57 L384.04,555.50 L384.80,555.42 L385.56,555.35 L386.32,555.26 L387.08,555.18 L387.84,555.09 L388.60,554.99 L389.36,554.89 L390.11,554.79 L390.87,554.68 L391.63,554.57 L392.39,554.46 L393.14,554.34 L393.90,554.22 L394.66,554.10 L395.41,553.97 L396.17,553.84 L396.92,553.70 L397.68,553.56 L398.43,553.42 L399.19,553.28 L399.94,553.13 L400.70,552.98 L401.45,552.83 L402.20,552.67 L402.96,552.51 L403.71,552.35 L404.46,552.19 L405.22,552.02 L405.97,551.86 L406.72,551.69 L407.48,551.52 L408.23,551.36 L408.98,551.19 L409.74,551.02 L410.49,550.85 L411.25,550.69 L412.01,550.53 L412.76,550.37 L413.52,550.21 L414.28,550.06 L415.05,549.91 L415.81,549.77 L416.58,549.63 L417.34,549.49 L418.11,549.36 L418.89,549.24 L419.66,549.11 L420.43,548.99 L421.21,548.88 L421.99,548.76 L422.77,548.65 L423.55,548.54 L424.32,548.42 L425.10,548.30 L425.88,548.17 L426.65,548.03 L427.42,547.89 L428.19,547.74 L428.96,547.58 L429.72,547.40 L430.48,547.22 L431.23,547.02 L431.98,546.81 L432.73,546.58 L433.47,546.34 L434.20,546.09 L434.94,545.83 L435.66,545.55 L436.39,545.26 L437.11,544.96 L437.82,544.65 L438.53,544.33 L439.24,544.00 L439.94,543.66 L440.64,543.31 L441.34,542.96 L442.03,542.59 L442.72,542.23 L443.41,541.85 L444.09,541.48 L444.77,541.10 L445.45,540.71 L446.13,540.33 L446.80,539.94 L447.48,539.55 L448.15,539.15 L448.81,538.76 L449.48,538.36 L450.15,537.96 L450.81,537.57 L451.47,537.17 L452.13,536.77 L452.79,536.36 L453.45,535.96 L454.11,535.56 L454.76,535.15 L455.41,534.74 L456.06,534.32 L456.71,533.91 L457.36,533.48 L458.00,533.06 L458.64,532.63 L459.28,532.19 L459.91,531.75 L460.54,531.31 L461.17,530.86 L461.79,530.40 L462.41,529.94 L463.03,529.47 L463.64,529.00 L464.24,528.52 L464.85,528.04 L465.45,527.56 L466.04,527.06 L466.63,526.57 L467.22,526.06 L467.80,525.55 L468.38,525.04 L468.96,524.52 L469.53,524.00 L470.09,523.48 L470.65,522.94 L471.21,522.41 L471.76,521.87 L472.31,521.32 L472.86,520.77 L473.40,520.22 L473.93,519.66 L474.47,519.10 L474.99,518.53 L475.52,517.96 L476.03,517.38 L476.55,516.81 L477.06,516.22 L477.56,515.64 L478.06,515.05 L478.56,514.46 L479.06,513.86 L479.55,513.27 L480.03,512.67 L480.51,512.06 L480.99,511.46 L481.46,510.85 L481.93,510.24 L482.40,509.62 L482.86,509.01 L483.32,508.39 L483.78,507.77 L484.23,507.15 L484.68,506.53 L485.12,505.90 L485.56,505.27 L486.00,504.65 L486.44,504.01 L486.87,503.38 L487.30,502.75 L487.72,502.11 L488.14,501.47 L488.56,500.83 L488.98,500.19 L489.39,499.55 L489.80,498.91 L490.21,498.26 L490.62,497.61 L491.02,496.96 L491.42,496.31 L491.82,495.66 L492.21,495.01 L492.60,494.35 L492.99,493.69 L493.38,493.03 L493.76,492.37 L494.14,491.71 L494.51,491.04 L494.89,490.37 L495.26,489.70 L495.63,489.03 L495.99,488.36 L496.36,487.69 L496.72,487.01 L497.08,486.34 L497.44,485.66 L497.79,484.98 L498.15,484.30 L498.50,483.62 L498.85,482.93 L499.20,482.25 L499.54,481.56 L499.88,480.87 L500.22,480.18 L500.55,479.49 L500.88,478.79 L501.21,478.09 L501.53,477.39 L501.84,476.69 L502.15,475.99 L502.46,475.28 L502.76,474.57 L503.05,473.85 L503.34,473.14 L503.63,472.42 L503.91,471.70 L504.18,470.98 L504.45,470.26 L504.72,469.53 L504.98,468.81 L505.24,468.08 L505.49,467.35 L505.74,466.62 L505.99,465.88 L506.24,465.15 L506.49,464.42 L506.73,463.68 L506.97,462.94 L507.20,462.21 L507.44,461.47 L507.67,460.73 L507.90,459.99 L508.13,459.25 L508.35,458.50 L508.57,457.76 L508.79,457.02 L509.01,456.27 L509.23,455.53 L509.44,454.78 L509.65,454.03 L509.86,453.28 L510.07,452.54 L510.28,451.79 L510.48,451.04 L510.68,450.28 L510.88,449.53 L511.08,448.78 L511.27,448.03 L511.46,447.27 L511.65,446.52 L511.83,445.76 L512.02,445.01 L512.20,444.25 L512.38,443.49 L512.55,442.73 L512.73,441.98 L512.90,441.22 L513.07,440.46 L513.23,439.70 L513.40,438.94 L513.56,438.18 L513.72,437.41 L513.87,436.65 L514.03,435.89 L514.18,435.13 L514.32,434.36 L514.47,433.60 L514.61,432.84 L514.75,432.07 L514.88,431.31 L515.01,430.54 L515.14,429.78 L515.27,429.01 L515.39,428.24 L515.51,427.48 L515.63,426.71 L515.74,425.95 L515.85,425.18 L515.96,424.41 L516.07,423.65 L516.17,422.88 L516.27,422.11 L516.37,421.35 L516.47,420.58 L516.56,419.81 L516.65,419.04 L516.75,418.28 L516.83,417.51 L516.92,416.74 L517.00,415.97 L517.09,415.21 L517.17,414.44 L517.24,413.67 L517.32,412.90 L517.39,412.13 L517.46,411.36 L517.53,410.59 L517.60,409.83 L517.66,409.06 L517.72,408.29 L517.78,407.52 L517.84,406.75 L517.89,405.98 L517.94,405.21 L517.99,404.44 L518.04,403.67 L518.08,402.90 L518.12,402.13 L518.16,401.36 L518.19,400.59 L518.22,399.82 L518.25,399.04 L518.27,398.27 L518.29,397.50 L518.31,396.73 L518.32,395.96 L518.33,395.19 L518.34,394.41 L518.34,393.64 L518.34,392.87 L518.34,392.10 L518.33,391.32 L518.32,390.55 L518.30,389.78 L518.28,389.00 L518.25,388.23 L518.23,387.46 L518.19,386.68 L518.15,385.91 L518.11,385.14 L518.07,384.36 L518.02,383.59 L517.97,382.82 L517.91,382.05 L517.85,381.28 L517.79,380.51 L517.72,379.74 L517.65,378.97 L517.58,378.19 L517.50,377.42 L517.42,376.66 L517.34,375.89 L517.26,375.12 L517.17,374.35 L517.08,373.58 L516.98,372.81 L516.88,372.04 L516.78,371.28 L516.67,370.51 L516.57,369.75 L516.45,368.98 L516.34,368.21 L516.22,367.45 L516.10,366.69 L515.98,365.92 L515.85,365.16 L515.72,364.40 L515.59,363.64 L515.45,362.87 L515.32,362.11 L515.18,361.35 L515.04,360.59 L514.89,359.83 L514.75,359.07 L514.60,358.32 L514.45,357.56 L514.30,356.80 L514.15,356.04 L513.99,355.29 L513.84,354.53 L513.68,353.77 L513.53,353.02 L513.37,352.26 L513.21,351.51 L513.05,350.76 L512.89,350.00 L512.72,349.25 L512.56,348.50 L512.40,347.74 L512.23,346.99 L512.06,346.24 L511.90,345.49 L511.73,344.74 L511.56,343.99 L511.39,343.24 L511.22,342.49 L511.05,341.74 L510.87,340.99 L510.70,340.24 L510.52,339.49 L510.34,338.74 L510.17,337.99 L509.99,337.24 L509.81,336.50 L509.62,335.75 L509.44,335.00 L509.26,334.26 L509.07,333.51 L508.88,332.76 L508.70,332.02 L508.51,331.27 L508.32,330.53 L508.12,329.79 L507.93,329.04 L507.74,328.30 L507.54,327.55 L507.35,326.81 L507.15,326.07 L506.95,325.33 L506.75,324.59 L506.55,323.84 L506.35,323.10 L506.15,322.36 L505.94,321.62 L505.74,320.88 L505.53,320.14 L505.33,319.40 L505.12,318.67 L504.91,317.93 L504.70,317.19 L504.48,316.45 L504.27,315.71 L504.05,314.98 L503.84,314.24 L503.62,313.51 L503.40,312.77 L503.18,312.03 L502.96,311.30 L502.74,310.56 L502.52,309.83 L502.29,309.10 L502.07,308.36 L501.84,307.63 L501.61,306.90 L501.38,306.17 L501.15,305.43 L500.92,304.70 L500.69,303.97 L500.46,303.24 L500.22,302.51 L499.99,301.78 L499.75,301.05 L499.52,300.32 L499.28,299.59 L499.04,298.86 L498.80,298.13 L498.56,297.40 L498.32,296.68 L498.08,295.95 L497.84,295.22 L497.59,294.49 L497.35,293.77 L497.10,293.04 L496.86,292.32 L496.61,291.59 L496.36,290.86 L496.11,290.14 L495.86,289.41 L495.61,288.69 L495.35,287.97 L495.10,287.24 L494.85,286.52 L494.59,285.80 L494.33,285.07 L494.07,284.35 L493.81,283.63 L493.55,282.91 L493.29,282.19 L493.03,281.47 L492.76,280.75 L492.50,280.03 L492.23,279.31 L491.97,278.59 L491.70,277.87 L491.43,277.15 L491.16,276.43 L490.89,275.72 L490.62,275.00 L490.35,274.28 L490.07,273.57 L489.80,272.85 L489.53,272.13 L489.25,271.42 L488.98,270.70 L488.70,269.99 L488.42,269.27 L488.15,268.55 L487.87,267.84 L487.59,267.12 L487.32,266.41 L487.04,265.69 L486.76,264.98 L486.48,264.26 L486.20,263.55 L485.92,262.84 L485.63,262.12 L485.35,261.41 L485.07,260.70 L484.78,259.98 L484.50,259.27 L484.21,258.56 L483.92,257.85 L483.64,257.14 L483.35,256.43 L483.06,255.72 L482.76,255.01 L482.47,254.30 L482.18,253.59 L481.88,252.88 L481.58,252.17 L481.29,251.46 L480.99,250.76 L480.69,250.05 L480.38,249.35 L480.08,248.64 L479.78,247.94 L479.47,247.23 L479.16,246.53 L478.85,245.83 L478.54,245.12 L478.23,244.42 L477.92,243.72 L477.60,243.02 L477.29,242.32 L476.97,241.62 L476.65,240.92 L476.33,240.22 L476.02,239.53 L475.70,238.83 L475.37,238.13 L475.05,237.43 L474.73,236.74 L474.40,236.04 L474.08,235.35 L473.75,234.65 L473.43,233.96 L473.10,233.26 L472.77,232.57 L472.44,231.87 L472.11,231.18 L471.78,230.49 L471.45,229.80 L471.12,229.10 L470.78,228.41 L470.45,227.72 L470.11,227.03 L469.78,226.34 L469.44,225.65 L469.10,224.96 L468.76,224.27 L468.42,223.58 L468.08,222.89 L467.74,222.20 L467.40,221.52 L467.06,220.83 L466.72,220.14 L466.38,219.46 L466.03,218.77 L465.69,218.08 L465.34,217.40 L465.00,216.71 L464.65,216.03 L464.30,215.34 L463.95,214.66 L463.60,213.97 L463.25,213.29 L462.90,212.61 L462.55,211.93 L462.19,211.25 L461.84,210.56 L461.48,209.89 L461.12,209.21 L460.76,208.53 L460.40,207.85 L460.04,207.18 L459.67,206.50 L459.30,205.83 L458.94,205.15 L458.57,204.48 L458.20,203.81 L457.82,203.14 L457.45,202.47 L457.07,201.80 L456.70,201.13 L456.32,200.46 L455.94,199.79 L455.56,199.12 L455.18,198.46 L454.79,197.79 L454.41,197.13 L454.02,196.47 L453.63,195.80 L453.24,195.14 L452.85,194.48 L452.45,193.83 L452.06,193.17 L451.66,192.51 L451.26,191.86 L450.85,191.21 L450.45,190.56 L450.04,189.90 L449.63,189.26 L449.22,188.61 L448.81,187.96 L448.39,187.31 L447.98,186.67 L447.56,186.02 L447.14,185.38 L446.72,184.74 L446.30,184.10 L445.88,183.46 L445.46,182.82 L445.03,182.18 L444.61,181.54 L444.18,180.91 L443.75,180.27 L443.32,179.64 L442.89,179.00 L442.46,178.37 L442.02,177.74 L441.59,177.11 L441.15,176.48 L440.71,175.85 L440.27,175.22 L439.83,174.60 L439.39,173.97 L438.95,173.35 L438.50,172.73 L438.06,172.11 L437.61,171.48 L437.16,170.87 L436.71,170.25 L436.26,169.63 L435.81,169.01 L435.36,168.40 L434.90,167.78 L434.45,167.17 L433.99,166.56 L433.54,165.94 L433.08,165.33 L432.62,164.72 L432.16,164.11 L431.70,163.50 L431.24,162.90 L430.77,162.29 L430.31,161.68 L429.85,161.08 L429.38,160.48 L428.91,159.87 L428.45,159.27 L427.98,158.67 L427.51,158.07 L427.03,157.47 L426.56,156.88 L426.09,156.28 L425.61,155.69 L425.13,155.09 L424.65,154.50 L424.17,153.91 L423.69,153.32 L423.21,152.73 L422.73,152.14 L422.25,151.55 L421.76,150.97 L421.28,150.38 L420.79,149.79 L420.30,149.21 L419.81,148.62 L419.33,148.04 L418.84,147.46 L418.35,146.88 L417.85,146.30 L417.36,145.72 L416.87,145.14 L416.37,144.56 L415.87,143.98 L415.37,143.41 L414.87,142.83 L414.37,142.26 L413.87,141.69 L413.36,141.12 L412.85,140.55 L412.34,139.99 L411.83,139.42 L411.32,138.86 L410.80,138.30 L410.28,137.74 L409.76,137.18 L409.23,136.63 L408.71,136.07 L408.18,135.52 L407.65,134.97 L407.11,134.42 L406.57,133.88 L406.03,133.34 L405.49,132.80 L404.94,132.26 L404.39,131.72 L403.84,131.19 L403.28,130.66 L402.72,130.13 L402.16,129.60 L401.59,129.07 L401.02,128.55 L400.45,128.03 L399.87,127.52 L399.29,127.00 L398.70,126.49 L398.11,125.98 L397.52,125.48 L396.92,124.98 L396.32,124.48 L395.71,123.98 L395.10,123.49 L394.48,123.00 L393.86,122.51 L393.23,122.03 L392.60,121.55 L391.97,121.08 L391.33,120.61 L390.68,120.15 L390.03,119.70 L389.38,119.26 L388.72,118.82 L388.06,118.40 L387.40,117.98 L386.73,117.58 L386.06,117.18 L385.38,116.80 L384.71,116.44 L384.03,116.08 L383.34,115.74 L382.65,115.42 L381.96,115.11 L381.27,114.82 L380.57,114.55 L379.88,114.30 L379.18,114.06 L378.47,113.85 L377.77,113.65 L377.06,113.48 L376.35,113.33 L375.64,113.20 L374.93,113.09 L374.21,113.01 L373.50,112.95 L372.78,112.92 L372.00,112.91Z" fill="none" stroke="rgb(242,100,105)" stroke-width="1.8" stroke-linejoin="round"/>
<path d="M372.00,112.91 L371.22,112.92 L370.50,112.95 L369.79,113.01 L369.07,113.09 L368.36,113.20 L367.65,113.33 L366.94,113.48 L366.23,113.65 L365.53,113.85 L364.82,114.06 L364.12,114.30 L363.43,114.55 L362.73,114.82 L362.04,115.11 L361.35,115.42 L360.66,115.74 L359.97,116.08 L359.29,116.44 L358.62,116.80 L357.94,117.18 L357.27,117.58 L356.60,117.98 L355.94,118.40 L355.28,118.82 L354.62,119.26 L353.97,119.70 L353.32,120.15 L352.67,120.61 L352.03,121.08 L351.40,121.55 L350.77,122.03 L350.14,122.51 L349.52,123.00 L348.90,123.49 L348.29,123.98 L347.68,124.48 L347.08,124.98 L346.48,125.48 L345.89,125.99 L345.30,126.49 L344.72,127.01 L344.13,127.52 L343.56,128.04 L342.98,128.56 L342.42,129.08 L341.85,129.61 L341.29,130.14 L340.73,130.67 L340.18,131.20 L339.63,131.74 L339.08,132.28 L338.54,132.82 L338.00,133.36 L337.46,133.91 L336.92,134.46 L336.39,135.01 L335.86,135.56 L335.34,136.12 L334.82,136.67 L334.30,137.23 L333.78,137.79 L333.26,138.36 L332.75,138.92 L332.24,139.49 L331.74,140.06 L331.23,140.63 L330.73,141.20 L330.23,141.77 L329.73,142.34 L329.23,142.92 L328.73,143.50 L328.24,144.08 L327.75,144.66 L327.26,145.24 L326.77,145.82 L326.28,146.41 L325.80,147.00 L325.32,147.58 L324.84,148.17 L324.36,148.76 L323.88,149.35 L323.40,149.95 L322.93,150.54 L322.46,151.14 L321.99,151.74 L321.52,152.34 L321.05,152.94 L320.59,153.54 L320.13,154.14 L319.66,154.74 L319.20,155.35 L318.75,155.96 L318.29,156.56 L317.84,157.17 L317.38,157.78 L316.93,158.39 L316.48,159.01 L316.03,159.62 L315.58,160.24 L315.14,160.85 L314.70,161.47 L314.25,162.09 L313.81,162.71 L313.37,163.33 L312.94,163.95 L312.50,164.57 L312.07,165.20 L311.63,165.82 L311.20,166.45 L310.77,167.08 L310.34,167.71 L309.91,168.34 L309.49,168.97 L309.06,169.60 L308.64,170.23 L308.22,170.86 L307.80,171.50 L307.38,172.14 L306.96,172.77 L306.55,173.41 L306.13,174.05 L305.72,174.69 L305.31,175.33 L304.89,175.97 L304.49,176.61 L304.08,177.26 L303.67,177.90 L303.26,178.55 L302.86,179.19 L302.46,179.84 L302.05,180.49 L301.65,181.13 L301.25,181.78 L300.86,182.43 L300.46,183.09 L300.06,183.74 L299.67,184.39 L299.27,185.04 L298.88,185.70 L298.49,186.35 L298.10,187.01 L297.71,187.67 L297.32,188.32 L296.93,188.98 L296.55,189.64 L296.16,190.30 L295.78,190.96 L295.40,191.62 L295.01,192.28 L294.63,192.94 L294.25,193.61 L293.87,194.27 L293.50,194.93 L293.12,195.60 L292.74,196.26 L292.37,196.93 L291.99,197.60 L291.62,198.26 L291.25,198.93 L290.88,199.60 L290.51,200.27 L290.14,200.94 L289.77,201.61 L289.40,202.28 L289.03,202.95 L288.67,203.62 L288.30,204.29 L287.94,204.96 L287.58,205.64 L287.21,206.31 L286.85,206.98 L286.49,207.66 L286.13,208.33 L285.77,209.01 L285.41,209.68 L285.05,210.36 L284.69,211.03 L284.34,211.71 L283.98,212.39 L283.63,213.06 L283.27,213.74 L282.92,214.42 L282.57,215.10 L282.21,215.78 L281.86,216.46 L281.51,217.14 L281.16,217.82 L280.81,218.50 L280.47,219.18 L280.12,219.86 L279.77,220.54 L279.43,221.23 L279.08,221.91 L278.74,222.59 L278.40,223.28 L278.05,223.96 L277.71,224.65 L277.37,225.33 L277.03,226.02 L276.69,226.70 L276.36,227.39 L276.02,228.07 L275.68,228.76 L275.35,229.45 L275.01,230.14 L274.68,230.82 L274.35,231.51 L274.01,232.20 L273.68,232.89 L273.35,233.58 L273.02,234.27 L272.70,234.96 L272.37,235.65 L272.04,236.35 L271.72,237.04 L271.39,237.73 L271.07,238.42 L270.74,239.12 L270.42,239.81 L270.10,240.50 L269.78,241.20 L269.46,241.89 L269.14,242.59 L268.82,243.28 L268.51,243.98 L268.19,244.68 L267.88,245.37 L267.56,246.07 L267.25,246.77 L266.94,247.47 L266.63,248.16 L266.32,248.86 L266.01,249.56 L265.70,250.26 L265.39,250.96 L265.09,251.66 L264.78,252.36 L264.48,253.06 L264.17,253.77 L263.87,254.47 L263.57,255.17 L263.27,255.87 L262.97,256.58 L262.67,257.28 L262.37,257.98 L262.07,258.69 L261.78,259.39 L261.48,260.10 L261.19,260.80 L260.90,261.51 L260.61,262.22 L260.32,262.92 L260.03,263.63 L259.74,264.34 L259.45,265.05 L259.16,265.75 L258.88,266.46 L258.59,267.17 L258.31,267.88 L258.02,268.59 L257.74,269.30 L257.46,270.01 L257.18,270.72 L256.90,271.44 L256.63,272.15 L256.35,272.86 L256.07,273.57 L255.80,274.29 L255.53,275.00 L255.25,275.71 L254.98,276.43 L254.71,277.14 L254.44,277.86 L254.17,278.57 L253.91,279.29 L253.64,280.00 L253.38,280.72 L253.11,281.44 L252.85,282.15 L252.59,282.87 L252.33,283.59 L252.07,284.31 L251.81,285.03 L251.55,285.75 L251.30,286.47 L251.04,287.19 L250.79,287.91 L250.53,288.63 L250.28,289.35 L250.03,290.07 L249.78,290.79 L249.53,291.51 L249.28,292.24 L249.04,292.96 L248.79,293.68 L248.55,294.41 L248.31,295.13 L248.06,295.85 L247.82,296.58 L247.58,297.30 L247.34,298.03 L247.11,298.76 L246.87,299.48 L246.64,300.21 L246.40,300.94 L246.17,301.66 L245.94,302.39 L245.71,303.12 L245.48,303.85 L245.25,304.58 L245.02,305.31 L244.80,306.04 L244.57,306.77 L244.35,307.50 L244.13,308.23 L243.91,308.96 L243.69,309.69 L243.47,310.42 L243.25,311.15 L243.03,311.89 L242.82,312.62 L242.60,313.35 L242.39,314.09 L242.18,314.82 L241.97,315.56 L241.76,316.29 L241.55,317.03 L241.35,317.76 L241.14,318.50 L240.94,319.23 L240.73,319.97 L240.53,320.71 L240.33,321.44 L240.13,322.18 L239.93,322.92 L239.74,323.66 L239.54,324.40 L239.35,325.14 L239.15,325.88 L238.96,326.62 L238.77,327.36 L238.58,328.10 L238.39,328.84 L238.21,329.58 L238.02,330.32 L237.84,331.06 L237.65,331.80 L237.47,332.55 L237.29,333.29 L237.11,334.03 L236.93,334.78 L236.76,335.52 L236.58,336.27 L236.41,337.01 L236.23,337.76 L236.06,338.50 L235.89,339.25 L235.72,339.99 L235.56,340.74 L235.39,341.49 L235.22,342.23 L235.06,342.98 L234.90,343.73 L234.74,344.48 L234.58,345.23 L234.42,345.98 L234.26,346.73 L234.11,347.47 L233.95,348.23 L233.80,348.98 L233.65,349.73 L233.50,350.48 L233.35,351.23 L233.20,351.98 L233.05,352.73 L232.91,353.49 L232.77,354.24 L232.62,354.99 L232.48,355.74 L232.34,356.50 L232.21,357.25 L232.07,358.01 L231.94,358.76 L231.81,359.52 L231.68,360.27 L231.55,361.03 L231.42,361.78 L231.30,362.54 L231.18,363.29 L231.06,364.05 L230.94,364.81 L230.83,365.56 L230.71,366.32 L230.60,367.08 L230.49,367.83 L230.39,368.59 L230.29,369.35 L230.18,370.11 L230.09,370.87 L229.99,371.62 L229.90,372.38 L229.81,373.14 L229.72,373.90 L229.63,374.66 L229.55,375.42 L229.47,376.18 L229.39,376.93 L229.32,377.69 L229.25,378.45 L229.18,379.21 L229.12,379.97 L229.06,380.73 L229.00,381.49 L228.94,382.25 L228.89,383.01 L228.84,383.77 L228.80,384.53 L228.75,385.29 L228.72,386.05 L228.68,386.81 L228.65,387.57 L228.62,388.33 L228.60,389.09 L228.58,389.85 L228.56,390.61 L228.55,391.37 L228.54,392.13 L228.53,392.89 L228.53,393.64 L228.53,394.40 L228.54,395.16 L228.54,395.92 L228.55,396.68 L228.57,397.44 L228.59,398.20 L228.61,398.96 L228.63,399.72 L228.66,400.48 L228.69,401.24 L228.72,402.00 L228.76,402.76 L228.79,403.52 L228.84,404.28 L228.88,405.04 L228.93,405.80 L228.98,406.56 L229.03,407.32 L229.09,408.08 L229.14,408.84 L229.21,409.60 L229.27,410.36 L229.33,411.12 L229.40,411.88 L229.47,412.64 L229.55,413.39 L229.62,414.15 L229.70,414.91 L229.78,415.67 L229.86,416.43 L229.95,417.19 L230.04,417.95 L230.13,418.71 L230.22,419.47 L230.31,420.23 L230.41,420.99 L230.50,421.75 L230.60,422.51 L230.70,423.27 L230.81,424.03 L230.91,424.80 L231.02,425.56 L231.13,426.32 L231.24,427.08 L231.35,427.84 L231.46,428.60 L231.58,429.36 L231.70,430.12 L231.82,430.88 L231.94,431.64 L232.06,432.40 L232.19,433.15 L232.32,433.91 L232.45,434.67 L232.58,435.43 L232.71,436.19 L232.85,436.95 L232.99,437.71 L233.13,438.46 L233.27,439.22 L233.42,439.98 L233.57,440.73 L233.72,441.49 L233.87,442.24 L234.02,443.00 L234.18,443.75 L234.34,444.51 L234.50,445.26 L234.66,446.01 L234.83,446.76 L235.00,447.51 L235.17,448.26 L235.34,449.01 L235.52,449.76 L235.70,450.51 L235.88,451.26 L236.06,452.01 L236.25,452.75 L236.44,453.50 L236.63,454.24 L236.82,454.99 L237.02,455.73 L237.22,456.47 L237.42,457.21 L237.63,457.95 L237.83,458.69 L238.04,459.43 L238.26,460.17 L238.47,460.90 L238.69,461.64 L238.91,462.37 L239.14,463.11 L239.36,463.84 L239.59,464.57 L239.83,465.30 L240.06,466.03 L240.30,466.75 L240.54,467.48 L240.79,468.20 L241.04,468.93 L241.29,469.65 L241.54,470.37 L241.80,471.09 L242.06,471.81 L242.32,472.52 L242.59,473.24 L242.86,473.95 L243.13,474.66 L243.41,475.37 L243.69,476.08 L243.97,476.79 L244.26,477.50 L244.55,478.20 L244.84,478.91 L245.13,479.61 L245.43,480.31 L245.74,481.00 L246.04,481.70 L246.35,482.40 L246.66,483.09 L246.98,483.78 L247.30,484.47 L247.62,485.16 L247.95,485.84 L248.28,486.53 L248.61,487.21 L248.95,487.89 L249.29,488.57 L249.64,489.24 L249.99,489.92 L250.34,490.59 L250.69,491.26 L251.05,491.93 L251.42,492.59 L251.78,493.26 L252.16,493.92 L252.53,494.58 L252.91,495.24 L253.29,495.89 L253.68,496.55 L254.07,497.20 L254.46,497.85 L254.86,498.50 L255.26,499.14 L255.67,499.78 L256.08,500.42 L256.49,501.06 L256.91,501.70 L257.33,502.33 L257.75,502.96 L258.18,503.59 L258.62,504.21 L259.06,504.84 L259.50,505.46 L259.94,506.07 L260.40,506.69 L260.85,507.30 L261.31,507.91 L261.77,508.52 L262.24,509.13 L262.71,509.73 L263.19,510.33 L263.67,510.92 L264.15,511.52 L264.64,512.11 L265.13,512.69 L265.63,513.28 L266.13,513.86 L266.63,514.43 L267.14,515.01 L267.66,515.58 L268.17,516.14 L268.69,516.70 L269.22,517.26 L269.75,517.82 L270.28,518.37 L270.82,518.91 L271.36,519.46 L271.90,519.99 L272.45,520.53 L273.00,521.06 L273.56,521.58 L274.12,522.10 L274.69,522.62 L275.25,523.13 L275.83,523.63 L276.40,524.13 L276.98,524.63 L277.57,525.12 L278.15,525.61 L278.74,526.09 L279.34,526.56 L279.94,527.03 L280.54,527.50 L281.15,527.96 L281.76,528.41 L282.37,528.86 L282.99,529.30 L283.61,529.74 L284.23,530.17 L284.86,530.59 L285.49,531.01 L286.13,531.43 L286.77,531.83 L287.41,532.23 L288.06,532.63 L288.71,533.02 L289.36,533.40 L290.02,533.78 L290.68,534.15 L291.34,534.51 L292.01,534.88 L292.68,535.23 L293.35,535.58 L294.02,535.93 L294.70,536.27 L295.38,536.61 L296.06,536.94 L296.75,537.26 L297.44,537.59 L298.13,537.90 L298.82,538.22 L299.51,538.53 L300.21,538.84 L300.91,539.14 L301.61,539.44 L302.32,539.73 L303.02,540.02 L303.73,540.31 L304.44,540.60 L305.15,540.88 L305.86,541.16 L306.58,541.43 L307.29,541.71 L308.01,541.98 L308.73,542.25 L309.45,542.51 L310.17,542.77 L310.89,543.03 L311.62,543.29 L312.34,543.55 L313.07,543.80 L313.79,544.06 L314.52,544.31 L315.25,544.56 L315.98,544.81 L316.71,545.05 L317.44,545.30 L318.17,545.54 L318.90,545.78 L319.64,546.02 L320.37,546.26 L321.11,546.50 L321.84,546.73 L322.58,546.96 L323.31,547.19 L324.05,547.42 L324.79,547.64 L325.53,547.87 L326.26,548.09 L327.00,548.31 L327.74,548.53 L328.49,548.74 L329.23,548.95 L329.97,549.16 L330.71,549.37 L331.45,549.57 L332.20,549.77 L332.94,549.97 L333.69,550.17 L334.43,550.37 L335.18,550.56 L335.92,550.75 L336.67,550.93 L337.42,551.11 L338.16,551.29 L338.91,551.47 L339.66,551.65 L340.41,551.82 L341.16,551.98 L341.91,552.15 L342.66,552.31 L343.41,552.47 L344.16,552.63 L344.91,552.78 L345.66,552.93 L346.42,553.07 L347.17,553.21 L347.92,553.35 L348.67,553.49 L349.43,553.62 L350.18,553.75 L350.93,553.87 L351.69,553.99 L352.44,554.11 L353.20,554.22 L353.95,554.33 L354.71,554.43 L355.46,554.53 L356.22,554.63 L356.97,554.72 L357.73,554.81 L358.49,554.90 L359.24,554.98 L360.00,555.06 L360.76,555.13 L361.51,555.20 L362.27,555.26 L363.03,555.32 L363.78,555.38 L364.54,555.43 L365.30,555.47 L366.05,555.52 L366.81,555.55 L367.57,555.59 L368.33,555.61 L369.08,555.64 L369.84,555.66 L370.60,555.67 L371.36,555.68 L372.00,555.68 L372.64,555.68 L373.40,555.67 L374.16,555.66 L374.92,555.64 L375.67,555.61 L376.43,555.59 L377.19,555.55 L377.95,555.52 L378.70,555.47 L379.46,555.43 L380.22,555.38 L380.97,555.32 L381.73,555.26 L382.49,555.20 L383.24,555.13 L384.00,555.06 L384.76,554.98 L385.51,554.90 L386.27,554.81 L387.03,554.72 L387.78,554.63 L388.54,554.53 L389.29,554.43 L390.05,554.33 L390.80,554.22 L391.56,554.11 L392.31,553.99 L393.07,553.87 L393.82,553.75 L394.57,553.62 L395.33,553.49 L396.08,553.35 L396.83,553.21 L397.58,553.07 L398.34,552.93 L399.09,552.78 L399.84,552.63 L400.59,552.47 L401.34,552.31 L402.09,552.15 L402.84,551.98 L403.59,551.82 L404.34,551.65 L405.09,551.47 L405.84,551.29 L406.58,551.11 L407.33,550.93 L408.08,550.75 L408.82,550.56 L409.57,550.37 L410.31,550.17 L411.06,549.97 L411.80,549.77 L412.55,549.57 L413.29,549.37 L414.03,549.16 L414.77,548.95 L415.51,548.74 L416.26,548.53 L417.00,548.31 L417.74,548.09 L418.47,547.87 L419.21,547.64 L419.95,547.42 L420.69,547.19 L421.42,546.96 L422.16,546.73 L422.89,546.50 L423.63,546.26 L424.36,546.02 L425.10,545.78 L425.83,545.54 L426.56,545.30 L427.29,545.05 L428.02,544.81 L428.75,544.56 L429.48,544.31 L430.21,544.06 L430.93,543.80 L431.66,543.55 L432.38,543.29 L433.11,543.03 L433.83,542.77 L434.55,542.51 L435.27,542.25 L435.99,541.98 L436.71,541.71 L437.42,541.43 L438.14,541.16 L438.85,540.88 L439.56,540.60 L440.27,540.31 L440.98,540.02 L441.68,539.73 L442.39,539.44 L443.09,539.14 L443.79,538.84 L444.49,538.53 L445.18,538.22 L445.87,537.90 L446.56,537.59 L447.25,537.26 L447.94,536.94 L448.62,536.61 L449.30,536.27 L449.98,535.93 L450.65,535.58 L451.32,535.23 L451.99,534.88 L452.66,534.51 L453.32,534.15 L453.98,533.78 L454.64,533.40 L455.29,533.02 L455.94,532.63 L456.59,532.23 L457.23,531.83 L457.87,531.43 L458.51,531.01 L459.14,530.59 L459.77,530.17 L460.39,529.74 L461.01,529.30 L461.63,528.86 L462.24,528.41 L462.85,527.96 L463.46,527.50 L464.06,527.03 L464.66,526.56 L465.26,526.09 L465.85,525.61 L466.43,525.12 L467.02,524.63 L467.60,524.13 L468.17,523.63 L468.75,523.13 L469.31,522.62 L469.88,522.10 L470.44,521.58 L471.00,521.06 L471.55,520.53 L472.10,519.99 L472.64,519.46 L473.18,518.91 L473.72,518.37 L474.25,517.82 L474.78,517.26 L475.31,516.70 L475.83,516.14 L476.34,515.58 L476.86,515.01 L477.37,514.43 L477.87,513.86 L478.37,513.28 L478.87,512.69 L479.36,512.11 L479.85,511.52 L480.33,510.92 L480.81,510.33 L481.29,509.73 L481.76,509.13 L482.23,508.52 L482.69,507.91 L483.15,507.30 L483.60,506.69 L484.06,506.07 L484.50,505.46 L484.94,504.84 L485.38,504.21 L485.82,503.59 L486.25,502.96 L486.67,502.33 L487.09,501.70 L487.51,501.06 L487.92,500.42 L488.33,499.78 L488.74,499.14 L489.14,498.50 L489.54,497.85 L489.93,497.20 L490.32,496.55 L490.71,495.89 L491.09,495.24 L491.47,494.58 L491.84,493.92 L492.22,493.26 L492.58,492.59 L492.95,491.93 L493.31,491.26 L493.66,490.59 L494.01,489.92 L494.36,489.24 L494.71,488.57 L495.05,487.89 L495.39,487.21 L495.72,486.53 L496.05,485.84 L496.38,485.16 L496.70,484.47 L497.02,483.78 L497.34,483.09 L497.65,482.40 L497.96,481.70 L498.26,481.00 L498.57,480.31 L498.87,479.61 L499.16,478.91 L499.45,478.20 L499.74,477.50 L500.03,476.79 L500.31,476.08 L500.59,475.37 L500.87,474.66 L501.14,473.95 L501.41,473.24 L501.68,472.52 L501.94,471.81 L502.20,471.09 L502.46,470.37 L502.71,469.65 L502.96,468.93 L503.21,468.20 L503.46,467.48 L503.70,466.75 L503.94,466.03 L504.17,465.30 L504.41,464.57 L504.64,463.84 L504.86,463.11 L505.09,462.37 L505.31,461.64 L505.53,460.90 L505.74,460.17 L505.96,459.43 L506.17,458.69 L506.37,457.95 L506.58,457.21 L506.78,456.47 L506.98,455.73 L507.18,454.99 L507.37,454.24 L507.56,453.50 L507.75,452.75 L507.94,452.01 L508.12,451.26 L508.30,450.51 L508.48,449.76 L508.66,449.01 L508.83,448.26 L509.00,447.51 L509.17,446.76 L509.34,446.01 L509.50,445.26 L509.66,444.51 L509.82,443.75 L509.98,443.00 L510.13,442.24 L510.28,441.49 L510.43,440.73 L510.58,439.98 L510.73,439.22 L510.87,438.46 L511.01,437.71 L511.15,436.95 L511.29,436.19 L511.42,435.43 L511.55,434.67 L511.68,433.91 L511.81,433.15 L511.94,432.40 L512.06,431.64 L512.18,430.88 L512.30,430.12 L512.42,429.36 L512.54,428.60 L512.65,427.84 L512.76,427.08 L512.87,426.32 L512.98,425.56 L513.09,424.80 L513.19,424.03 L513.30,423.27 L513.40,422.51 L513.50,421.75 L513.59,420.99 L513.69,420.23 L513.78,419.47 L513.87,418.71 L513.96,417.95 L514.05,417.19 L514.14,416.43 L514.22,415.67 L514.30,414.91 L514.38,414.15 L514.45,413.39 L514.53,412.64 L514.60,411.88 L514.67,411.12 L514.73,410.36 L514.79,409.60 L514.86,408.84 L514.91,408.08 L514.97,407.32 L515.02,406.56 L515.07,405.80 L515.12,405.04 L515.16,404.28 L515.21,403.52 L515.24,402.76 L515.28,402.00 L515.31,401.24 L515.34,400.48 L515.37,399.72 L515.39,398.96 L515.41,398.20 L515.43,397.44 L515.45,396.68 L515.46,395.92 L515.46,395.16 L515.47,394.40 L515.47,393.64 L515.47,392.89 L515.46,392.13 L515.45,391.37 L515.44,390.61 L515.42,389.85 L515.40,389.09 L515.38,388.33 L515.35,387.57 L515.32,386.81 L515.28,386.05 L515.25,385.29 L515.20,384.53 L515.16,383.77 L515.11,383.01 L515.06,382.25 L515.00,381.49 L514.94,380.73 L514.88,379.97 L514.82,379.21 L514.75,378.45 L514.68,377.69 L514.61,376.93 L514.53,376.18 L514.45,375.42 L514.37,374.66 L514.28,373.90 L514.19,373.14 L514.10,372.38 L514.01,371.62 L513.91,370.87 L513.82,370.11 L513.71,369.35 L513.61,368.59 L513.51,367.83 L513.40,367.08 L513.29,366.32 L513.17,365.56 L513.06,364.81 L512.94,364.05 L512.82,363.29 L512.70,362.54 L512.58,361.78 L512.45,361.03 L512.32,360.27 L512.19,359.52 L512.06,358.76 L511.93,358.01 L511.79,357.25 L511.66,356.50 L511.52,355.74 L511.38,354.99 L511.23,354.24 L511.09,353.49 L510.95,352.73 L510.80,351.98 L510.65,351.23 L510.50,350.48 L510.35,349.73 L510.20,348.98 L510.05,348.23 L509.89,347.47 L509.74,346.73 L509.58,345.98 L509.42,345.23 L509.26,344.48 L509.10,343.73 L508.94,342.98 L508.78,342.23 L508.61,341.49 L508.44,340.74 L508.28,339.99 L508.11,339.25 L507.94,338.50 L507.77,337.76 L507.59,337.01 L507.42,336.27 L507.24,335.52 L507.07,334.78 L506.89,334.03 L506.71,333.29 L506.53,332.55 L506.35,331.80 L506.16,331.06 L505.98,330.32 L505.79,329.58 L505.61,328.84 L505.42,328.10 L505.23,327.36 L505.04,326.62 L504.85,325.88 L504.65,325.14 L504.46,324.40 L504.26,323.66 L504.07,322.92 L503.87,322.18 L503.67,321.44 L503.47,320.71 L503.27,319.97 L503.06,319.23 L502.86,318.50 L502.65,317.76 L502.45,317.03 L502.24,316.29 L502.03,315.56 L501.82,314.82 L501.61,314.09 L501.40,313.35 L501.18,312.62 L500.97,311.89 L500.75,311.15 L500.53,310.42 L500.31,309.69 L500.09,308.96 L499.87,308.23 L499.65,307.50 L499.43,306.77 L499.20,306.04 L498.98,305.31 L498.75,304.58 L498.52,303.85 L498.29,303.12 L498.06,302.39 L497.83,301.66 L497.60,300.94 L497.36,300.21 L497.13,299.48 L496.89,298.76 L496.66,298.03 L496.42,297.30 L496.18,296.58 L495.94,295.85 L495.69,295.13 L495.45,294.41 L495.21,293.68 L494.96,292.96 L494.72,292.24 L494.47,291.51 L494.22,290.79 L493.97,290.07 L493.72,289.35 L493.47,288.63 L493.21,287.91 L492.96,287.19 L492.70,286.47 L492.45,285.75 L492.19,285.03 L491.93,284.31 L491.67,283.59 L491.41,282.87 L491.15,282.15 L490.89,281.44 L490.62,280.72 L490.36,280.00 L490.09,279.29 L489.83,278.57 L489.56,277.86 L489.29,277.14 L489.02,276.43 L488.75,275.71 L488.47,275.00 L488.20,274.29 L487.93,273.57 L487.65,272.86 L487.37,272.15 L487.10,271.44 L486.82,270.72 L486.54,270.01 L486.26,269.30 L485.98,268.59 L485.69,267.88 L485.41,267.17 L485.12,266.46 L484.84,265.75 L484.55,265.05 L484.26,264.34 L483.97,263.63 L483.68,262.92 L483.39,262.22 L483.10,261.51 L482.81,260.80 L482.52,260.10 L482.22,259.39 L481.93,258.69 L481.63,257.98 L481.33,257.28 L481.03,256.58 L480.73,255.87 L480.43,255.17 L480.13,254.47 L479.83,253.77 L479.52,253.06 L479.22,252.36 L478.91,251.66 L478.61,250.96 L478.30,250.26 L477.99,249.56 L477.68,248.86 L477.37,248.16 L477.06,247.47 L476.75,246.77 L476.44,246.07 L476.12,245.37 L475.81,244.68 L475.49,243.98 L475.18,243.28 L474.86,242.59 L474.54,241.89 L474.22,241.20 L473.90,240.50 L473.58,239.81 L473.26,239.12 L472.93,238.42 L472.61,237.73 L472.28,237.04 L471.96,236.35 L471.63,235.65 L471.30,234.96 L470.98,234.27 L470.65,233.58 L470.32,232.89 L469.99,232.20 L469.65,231.51 L469.32,230.82 L468.99,230.14 L468.65,229.45 L468.32,228.76 L467.98,228.07 L467.64,227.39 L467.31,226.70 L466.97,226.02 L466.63,225.33 L466.29,224.65 L465.95,223.96 L465.60,223.28 L465.26,222.59 L464.92,221.91 L464.57,221.23 L464.23,220.54 L463.88,219.86 L463.53,219.18 L463.19,218.50 L462.84,217.82 L462.49,217.14 L462.14,216.46 L461.79,215.78 L461.43,215.10 L461.08,214.42 L460.73,213.74 L460.37,213.06 L460.02,212.39 L459.66,211.71 L459.31,211.03 L458.95,210.36 L458.59,209.68 L458.23,209.01 L457.87,208.33 L457.51,207.66 L457.15,206.98 L456.79,206.31 L456.42,205.64 L456.06,204.96 L455.70,204.29 L455.33,203.62 L454.97,202.95 L454.60,202.28 L454.23,201.61 L453.86,200.94 L453.49,200.27 L453.12,199.60 L452.75,198.93 L452.38,198.26 L452.01,197.60 L451.63,196.93 L451.26,196.26 L450.88,195.60 L450.50,194.93 L450.13,194.27 L449.75,193.61 L449.37,192.94 L448.99,192.28 L448.60,191.62 L448.22,190.96 L447.84,190.30 L447.45,189.64 L447.07,188.98 L446.68,188.32 L446.29,187.67 L445.90,187.01 L445.51,186.35 L445.12,185.70 L444.73,185.04 L444.33,184.39 L443.94,183.74 L443.54,183.09 L443.14,182.43 L442.75,181.78 L442.35,181.13 L441.95,180.49 L441.54,179.84 L441.14,179.19 L440.74,178.55 L440.33,177.90 L439.92,177.26 L439.51,176.61 L439.11,175.97 L438.69,175.33 L438.28,174.69 L437.87,174.05 L437.45,173.41 L437.04,172.77 L436.62,172.14 L436.20,171.50 L435.78,170.86 L435.36,170.23 L434.94,169.60 L434.51,168.97 L434.09,168.34 L433.66,167.71 L433.23,167.08 L432.80,166.45 L432.37,165.82 L431.93,165.20 L431.50,164.57 L431.06,163.95 L430.63,163.33 L430.19,162.71 L429.75,162.09 L429.30,161.47 L428.86,160.85 L428.42,160.24 L427.97,159.62 L427.52,159.01 L427.07,158.39 L426.62,157.78 L426.16,157.17 L425.71,156.56 L425.25,155.96 L424.80,155.35 L424.34,154.74 L423.87,154.14 L423.41,153.54 L422.95,152.94 L422.48,152.34 L422.01,151.74 L421.54,151.14 L421.07,150.54 L420.60,149.95 L420.12,149.35 L419.64,148.76 L419.16,148.17 L418.68,147.58 L418.20,147.00 L417.72,146.41 L417.23,145.82 L416.74,145.24 L416.25,144.66 L415.76,144.08 L415.27,143.50 L414.77,142.92 L414.27,142.34 L413.77,141.77 L413.27,141.20 L412.77,140.63 L412.26,140.06 L411.76,139.49 L411.25,138.92 L410.74,138.36 L410.22,137.79 L409.70,137.23 L409.18,136.67 L408.66,136.12 L408.14,135.56 L407.61,135.01 L407.08,134.46 L406.54,133.91 L406.00,133.36 L405.46,132.82 L404.92,132.28 L404.37,131.74 L403.82,131.20 L403.27,130.67 L402.71,130.14 L402.15,129.61 L401.58,129.08 L401.02,128.56 L400.44,128.04 L399.87,127.52 L399.28,127.01 L398.70,126.49 L398.11,125.99 L397.52,125.48 L396.92,124.98 L396.32,124.48 L395.71,123.98 L395.10,123.49 L394.48,123.00 L393.86,122.51 L393.23,122.03 L392.60,121.55 L391.97,121.08 L391.33,120.61 L390.68,120.15 L390.03,119.70 L389.38,119.26 L388.72,118.82 L388.06,118.40 L387.40,117.98 L386.73,117.58 L386.06,117.18 L385.38,116.80 L384.71,116.44 L384.03,116.08 L383.34,115.74 L382.65,115.42 L381.96,115.11 L381.27,114.82 L380.57,114.55 L379.88,114.30 L379.18,114.06 L378.47,113.85 L377.77,113.65 L377.06,113.48 L376.35,113.33 L375.64,113.20 L374.93,113.09 L374.21,113.01 L373.50,112.95 L372.78,112.92 L372.00,112.91Z" fill="none" stroke="rgb(95,100,240)" stroke-width="1.8" stroke-opacity="0.75" stroke-linejoin="round"/>
</g>
<g><text transform="translate(26.70,42.61) scale(1,1.1)" text-anchor="start">105<tspan dx="1.4">°</tspan></text><text transform="translate(715.20,42.61) scale(1,1.1)" text-anchor="end">105<tspan dx="1.4">°</tspan></text><text transform="translate(26.70,117.71) scale(1,1.1)" text-anchor="start">90<tspan dx="1.4">°</tspan></text><text transform="translate(715.20,117.71) scale(1,1.1)" text-anchor="end">90<tspan dx="1.4">°</tspan></text><text transform="translate(26.70,204.11) scale(1,1.1)" text-anchor="start">75<tspan dx="1.4">°</tspan></text><text transform="translate(715.20,204.11) scale(1,1.1)" text-anchor="end">75<tspan dx="1.4">°</tspan></text><text transform="translate(26.70,302.91) scale(1,1.1)" text-anchor="start">60<tspan dx="1.4">°</tspan></text><text transform="translate(715.20,302.91) scale(1,1.1)" text-anchor="end">60<tspan dx="1.4">°</tspan></text><text transform="translate(26.70,439.51) scale(1,1.1)" text-anchor="start">45<tspan dx="1.4">°</tspan></text><text transform="translate(715.20,439.51) scale(1,1.1)" text-anchor="end">45<tspan dx="1.4">°</tspan></text><text transform="translate(42.60,656.91) scale(1,1.1)" text-anchor="middle">30<tspan dx="1.4">°</tspan></text><text transform="translate(210.80,656.91) scale(1,1.1)" text-anchor="middle">15<tspan dx="1.4">°</tspan></text><text transform="translate(371.10,656.91) scale(1,1.1)" text-anchor="middle">0<tspan dx="1.4">°</tspan></text><text transform="translate(530.30,656.91) scale(1,1.1)" text-anchor="middle">15<tspan dx="1.4">°</tspan></text><text transform="translate(700.00,656.91) scale(1,1.1)" text-anchor="middle">30<tspan dx="1.4">°</tspan></text><text transform="translate(370.90,305.91) scale(1,1.1)" text-anchor="middle">300</text><text transform="translate(370.90,399.01) scale(1,1.1)" text-anchor="middle">450</text><text transform="translate(370.90,492.21) scale(1,1.1)" text-anchor="middle">600</text><text transform="translate(370.90,585.01) scale(1,1.1)" text-anchor="middle">750</text></g>
<rect x="17.1" y="14.1" width="709.7" height="655.9" fill="none" stroke="#a2a2a2" stroke-width="2.6"/>
</g>
</svg>
</body></html>
